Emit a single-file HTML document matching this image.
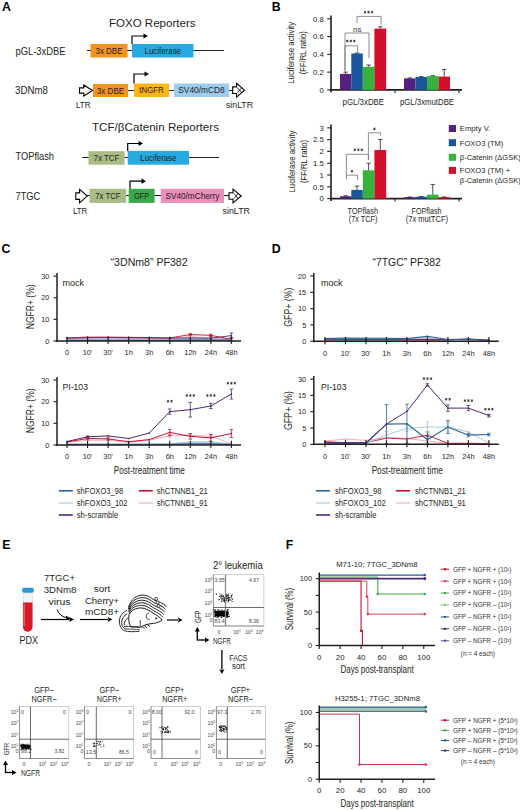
<!DOCTYPE html>
<html><head><meta charset="utf-8"><style>
html,body{margin:0;padding:0;background:#fff;overflow:hidden;}
svg{display:block;}
text{font-family:"Liberation Sans", sans-serif;}
</style></head><body>
<svg width="520" height="810" viewBox="0 0 520 810">
<rect width="520" height="810" fill="#fff"/>
<text x="1.90" y="11.20" font-size="12.3" text-anchor="start" fill="#000" font-weight="bold">A</text>
<text x="109.00" y="26.50" font-size="11" text-anchor="start" fill="#231f20" textLength="86.5" lengthAdjust="spacingAndGlyphs">FOXO Reporters</text>
<text x="92.00" y="131.00" font-size="11" text-anchor="start" fill="#231f20" textLength="127" lengthAdjust="spacingAndGlyphs">TCF/βCatenin Reporters</text>
<text x="15.50" y="54.90" font-size="10.5" text-anchor="start" fill="#231f20" textLength="50" lengthAdjust="spacingAndGlyphs">pGL-3xDBE</text>
<line x1="87.00" y1="50.50" x2="224.00" y2="50.50" stroke="#231f20" stroke-width="1.2"/>
<rect x="90.50" y="44.00" width="37.00" height="13.50" fill="#F6921E" stroke="none" stroke-width="0"/>
<text x="109.00" y="53.85" font-size="8.6" text-anchor="middle" fill="#231f20" textLength="27" lengthAdjust="spacingAndGlyphs">3x DBE</text>
<rect x="132.00" y="44.00" width="61.50" height="13.50" fill="#27A9E1" stroke="none" stroke-width="0"/>
<text x="162.75" y="53.85" font-size="8.6" text-anchor="middle" fill="#231f20" textLength="36.5" lengthAdjust="spacingAndGlyphs">Luciferase</text>
<path d="M132 44 V36 H144" fill="none" stroke="#000" stroke-width="1.2"/>
<polygon points="143.5,33.4 148,36 143.5,38.6" fill="#000"/>
<text x="15.00" y="94.30" font-size="10.5" text-anchor="start" fill="#231f20" textLength="33" lengthAdjust="spacingAndGlyphs">3DNm8</text>
<line x1="90.00" y1="90.50" x2="233.00" y2="90.50" stroke="#231f20" stroke-width="1.2"/>
<path d="M79.5 87.86 H83.79 V85.0 L92.5 90.5 L83.79 96.0 V93.14 H79.5 Z" fill="#fff" stroke="#000" stroke-width="1.1"/>
<rect x="93.00" y="84.00" width="35.00" height="13.00" fill="#F6921E" stroke="none" stroke-width="0"/>
<text x="110.50" y="93.60" font-size="8.6" text-anchor="middle" fill="#231f20" textLength="27.5" lengthAdjust="spacingAndGlyphs">3x DBE</text>
<rect x="134.00" y="83.50" width="35.00" height="13.50" fill="#FDB515" stroke="none" stroke-width="0"/>
<text x="151.50" y="93.35" font-size="8.6" text-anchor="middle" fill="#231f20" textLength="24.5" lengthAdjust="spacingAndGlyphs">tNGFR</text>
<rect x="174.00" y="83.50" width="55.00" height="13.50" fill="#9FCBED" stroke="none" stroke-width="0"/>
<text x="201.50" y="93.35" font-size="8.6" text-anchor="middle" fill="#231f20" textLength="46.5" lengthAdjust="spacingAndGlyphs">SV40/mCD8</text>
<path d="M232.7 86.888 H236.594 V83.3 L244.5 90.2 L236.594 97.10000000000001 V93.512 H232.7 Z" fill="#fff" stroke="#000" stroke-width="1.1"/>
<line x1="237.40" y1="87.60" x2="241.80" y2="92.80" stroke="#000" stroke-width="0.8"/>
<line x1="237.40" y1="92.80" x2="241.80" y2="87.60" stroke="#000" stroke-width="0.8"/>
<path d="M134 83.5 V74 H145" fill="none" stroke="#000" stroke-width="1.2"/>
<polygon points="144.5,71.4 149,74 144.5,76.6" fill="#000"/>
<text x="76.00" y="108.20" font-size="9.9" text-anchor="start" fill="#231f20" textLength="14.5" lengthAdjust="spacingAndGlyphs">LTR</text>
<text x="226.00" y="108.30" font-size="9.9" text-anchor="start" fill="#231f20" textLength="27" lengthAdjust="spacingAndGlyphs">sinLTR</text>
<text x="15.50" y="160.30" font-size="10.5" text-anchor="start" fill="#231f20" textLength="38.5" lengthAdjust="spacingAndGlyphs">TOPflash</text>
<line x1="82.30" y1="157.50" x2="219.00" y2="157.50" stroke="#231f20" stroke-width="1.2"/>
<rect x="88.50" y="151.20" width="36.10" height="13.50" fill="#A9BC86" stroke="none" stroke-width="0"/>
<text x="106.55" y="161.05" font-size="8.6" text-anchor="middle" fill="#231f20" textLength="25.4" lengthAdjust="spacingAndGlyphs">7x TCF</text>
<rect x="127.70" y="150.90" width="61.30" height="13.80" fill="#27A9E1" stroke="none" stroke-width="0"/>
<text x="158.35" y="160.90" font-size="8.6" text-anchor="middle" fill="#231f20" textLength="36" lengthAdjust="spacingAndGlyphs">Luciferase</text>
<path d="M127.7 151 V143.5 H139" fill="none" stroke="#000" stroke-width="1.2"/>
<polygon points="138.5,140.9 143,143.5 138.5,146.1" fill="#000"/>
<text x="15.50" y="200.00" font-size="10.6" text-anchor="start" fill="#231f20" textLength="24.6" lengthAdjust="spacingAndGlyphs">7TGC</text>
<line x1="87.00" y1="195.50" x2="229.50" y2="195.50" stroke="#231f20" stroke-width="1.2"/>
<path d="M75.8 192.85999999999999 H79.595 V189.35 L87.3 196.1 L79.595 202.85 V199.34 H75.8 Z" fill="#fff" stroke="#000" stroke-width="1.1"/>
<rect x="89.60" y="188.80" width="36.60" height="14.10" fill="#A9BC86" stroke="none" stroke-width="0"/>
<text x="107.90" y="198.95" font-size="8.6" text-anchor="middle" fill="#231f20" textLength="25.4" lengthAdjust="spacingAndGlyphs">7x TCF</text>
<rect x="128.70" y="188.80" width="25.90" height="14.10" fill="#3AAA49" stroke="none" stroke-width="0"/>
<text x="141.65" y="198.95" font-size="8.6" text-anchor="middle" fill="#231f20" textLength="15" lengthAdjust="spacingAndGlyphs">GFP</text>
<rect x="160.80" y="188.80" width="63.20" height="14.10" fill="#EB8DBD" stroke="none" stroke-width="0"/>
<text x="192.40" y="198.95" font-size="8.6" text-anchor="middle" fill="#231f20" textLength="54" lengthAdjust="spacingAndGlyphs">SV40/mCherry</text>
<path d="M229 192.688 H233.026 V189.1 L241.2 196 L233.026 202.9 V199.312 H229 Z" fill="#fff" stroke="#000" stroke-width="1.1"/>
<line x1="233.93" y1="193.40" x2="238.33" y2="198.60" stroke="#000" stroke-width="0.8"/>
<line x1="233.93" y1="198.60" x2="238.33" y2="193.40" stroke="#000" stroke-width="0.8"/>
<path d="M130 188.8 V181.2 H142" fill="none" stroke="#000" stroke-width="1.2"/>
<polygon points="141.5,178.6 146,181.2 141.5,183.79999999999998" fill="#000"/>
<text x="72.90" y="213.60" font-size="9.9" text-anchor="start" fill="#231f20" textLength="14.4" lengthAdjust="spacingAndGlyphs">LTR</text>
<text x="222.50" y="213.80" font-size="9.9" text-anchor="start" fill="#231f20" textLength="27.5" lengthAdjust="spacingAndGlyphs">sinLTR</text>
<text x="271.80" y="11.20" font-size="12.3" text-anchor="start" fill="#000" font-weight="bold">B</text>
<line x1="331.00" y1="15.50" x2="331.00" y2="92.40" stroke="#231f20" stroke-width="1.6"/>
<line x1="330.20" y1="89.90" x2="462.00" y2="89.90" stroke="#231f20" stroke-width="1.6"/>
<line x1="327.20" y1="89.90" x2="331.00" y2="89.90" stroke="#231f20" stroke-width="1.1"/>
<text x="323.80" y="92.70" font-size="7.8" text-anchor="end" fill="#231f20">0</text>
<line x1="327.20" y1="72.12" x2="331.00" y2="72.12" stroke="#231f20" stroke-width="1.1"/>
<text x="323.80" y="74.92" font-size="7.8" text-anchor="end" fill="#231f20">0.2</text>
<line x1="327.20" y1="54.35" x2="331.00" y2="54.35" stroke="#231f20" stroke-width="1.1"/>
<text x="323.80" y="57.15" font-size="7.8" text-anchor="end" fill="#231f20">0.4</text>
<line x1="327.20" y1="36.58" x2="331.00" y2="36.58" stroke="#231f20" stroke-width="1.1"/>
<text x="323.80" y="39.38" font-size="7.8" text-anchor="end" fill="#231f20">0.6</text>
<line x1="327.20" y1="18.80" x2="331.00" y2="18.80" stroke="#231f20" stroke-width="1.1"/>
<text x="323.80" y="21.60" font-size="7.8" text-anchor="end" fill="#231f20">0.8</text>
<line x1="395.00" y1="89.90" x2="395.00" y2="92.90" stroke="#231f20" stroke-width="1.1"/>
<line x1="459.00" y1="89.90" x2="459.00" y2="92.90" stroke="#231f20" stroke-width="1.1"/>
<rect x="340.00" y="73.90" width="11.30" height="16.00" fill="#56207E" stroke="none" stroke-width="0"/>
<line x1="345.65" y1="73.90" x2="345.65" y2="72.13" stroke="#231f20" stroke-width="0.8"/>
<line x1="343.45" y1="72.13" x2="347.85" y2="72.13" stroke="#231f20" stroke-width="0.8"/>
<rect x="351.30" y="53.46" width="11.50" height="36.44" fill="#1A569C" stroke="none" stroke-width="0"/>
<line x1="357.05" y1="53.46" x2="357.05" y2="53.02" stroke="#231f20" stroke-width="0.8"/>
<line x1="354.85" y1="53.02" x2="359.25" y2="53.02" stroke="#231f20" stroke-width="0.8"/>
<rect x="362.80" y="66.79" width="11.60" height="23.11" fill="#38B23F" stroke="none" stroke-width="0"/>
<line x1="368.60" y1="66.79" x2="368.60" y2="65.02" stroke="#231f20" stroke-width="0.8"/>
<line x1="366.40" y1="65.02" x2="370.80" y2="65.02" stroke="#231f20" stroke-width="0.8"/>
<rect x="374.40" y="28.58" width="11.80" height="61.32" fill="#D0112B" stroke="none" stroke-width="0"/>
<line x1="380.30" y1="28.58" x2="380.30" y2="26.80" stroke="#231f20" stroke-width="0.8"/>
<line x1="378.10" y1="26.80" x2="382.50" y2="26.80" stroke="#231f20" stroke-width="0.8"/>
<rect x="404.00" y="78.35" width="11.50" height="11.55" fill="#56207E" stroke="none" stroke-width="0"/>
<line x1="409.75" y1="78.35" x2="409.75" y2="77.90" stroke="#231f20" stroke-width="0.8"/>
<line x1="407.55" y1="77.90" x2="411.95" y2="77.90" stroke="#231f20" stroke-width="0.8"/>
<rect x="415.50" y="77.01" width="11.50" height="12.89" fill="#1A569C" stroke="none" stroke-width="0"/>
<line x1="421.25" y1="77.01" x2="421.25" y2="76.57" stroke="#231f20" stroke-width="0.8"/>
<line x1="419.05" y1="76.57" x2="423.45" y2="76.57" stroke="#231f20" stroke-width="0.8"/>
<rect x="427.00" y="76.12" width="11.50" height="13.78" fill="#38B23F" stroke="none" stroke-width="0"/>
<line x1="432.75" y1="76.12" x2="432.75" y2="75.68" stroke="#231f20" stroke-width="0.8"/>
<line x1="430.55" y1="75.68" x2="434.95" y2="75.68" stroke="#231f20" stroke-width="0.8"/>
<rect x="438.50" y="76.57" width="11.50" height="13.33" fill="#D0112B" stroke="none" stroke-width="0"/>
<line x1="444.25" y1="76.57" x2="444.25" y2="69.46" stroke="#231f20" stroke-width="0.8"/>
<line x1="442.05" y1="69.46" x2="446.45" y2="69.46" stroke="#231f20" stroke-width="0.8"/>
<text x="363.30" y="105.00" font-size="8.6" text-anchor="middle" fill="#231f20" textLength="41.5" lengthAdjust="spacingAndGlyphs">pGL/3xDBE</text>
<text x="427.00" y="105.00" font-size="8.6" text-anchor="middle" fill="#231f20" textLength="54" lengthAdjust="spacingAndGlyphs">pGL/3xmutDBE</text>
<text x="294.50" y="52.80" font-size="8.6" text-anchor="middle" fill="#231f20" textLength="62" lengthAdjust="spacingAndGlyphs" transform="rotate(-90 294.50 52.80)">Luciferase activity</text>
<text x="306.50" y="52.80" font-size="8.6" text-anchor="middle" fill="#231f20" textLength="43" lengthAdjust="spacingAndGlyphs" transform="rotate(-90 306.50 52.80)">(FF/RL ratio)</text>
<path d="M357 23 V16.4 H381 V25" fill="none" stroke="#6a6a6a" stroke-width="0.75"/>
<line x1="365.00" y1="10.85" x2="365.00" y2="13.55" stroke="#2a2a2a" stroke-width="0.75"/>
<line x1="363.83" y1="11.52" x2="366.17" y2="12.88" stroke="#2a2a2a" stroke-width="0.75"/>
<line x1="366.17" y1="11.52" x2="363.83" y2="12.88" stroke="#2a2a2a" stroke-width="0.75"/>
<line x1="368.50" y1="10.85" x2="368.50" y2="13.55" stroke="#2a2a2a" stroke-width="0.75"/>
<line x1="367.33" y1="11.52" x2="369.67" y2="12.88" stroke="#2a2a2a" stroke-width="0.75"/>
<line x1="369.67" y1="11.52" x2="367.33" y2="12.88" stroke="#2a2a2a" stroke-width="0.75"/>
<line x1="372.00" y1="10.85" x2="372.00" y2="13.55" stroke="#2a2a2a" stroke-width="0.75"/>
<line x1="370.83" y1="11.52" x2="373.17" y2="12.88" stroke="#2a2a2a" stroke-width="0.75"/>
<line x1="373.17" y1="11.52" x2="370.83" y2="12.88" stroke="#2a2a2a" stroke-width="0.75"/>
<path d="M345 70 V33 H369 V58" fill="none" stroke="#6a6a6a" stroke-width="0.75"/>
<text x="357.30" y="31.60" font-size="8" text-anchor="middle" fill="#333">ns</text>
<path d="M345 72 V45.8 H357.6 V52" fill="none" stroke="#6a6a6a" stroke-width="0.75"/>
<line x1="347.30" y1="39.65" x2="347.30" y2="42.35" stroke="#2a2a2a" stroke-width="0.75"/>
<line x1="346.13" y1="40.33" x2="348.47" y2="41.67" stroke="#2a2a2a" stroke-width="0.75"/>
<line x1="348.47" y1="40.33" x2="346.13" y2="41.67" stroke="#2a2a2a" stroke-width="0.75"/>
<line x1="350.80" y1="39.65" x2="350.80" y2="42.35" stroke="#2a2a2a" stroke-width="0.75"/>
<line x1="349.63" y1="40.33" x2="351.97" y2="41.67" stroke="#2a2a2a" stroke-width="0.75"/>
<line x1="351.97" y1="40.33" x2="349.63" y2="41.67" stroke="#2a2a2a" stroke-width="0.75"/>
<line x1="354.30" y1="39.65" x2="354.30" y2="42.35" stroke="#2a2a2a" stroke-width="0.75"/>
<line x1="353.13" y1="40.33" x2="355.47" y2="41.67" stroke="#2a2a2a" stroke-width="0.75"/>
<line x1="355.47" y1="40.33" x2="353.13" y2="41.67" stroke="#2a2a2a" stroke-width="0.75"/>
<line x1="331.00" y1="124.50" x2="331.00" y2="201.10" stroke="#231f20" stroke-width="1.6"/>
<line x1="330.20" y1="198.60" x2="462.00" y2="198.60" stroke="#231f20" stroke-width="1.6"/>
<line x1="327.20" y1="198.60" x2="331.00" y2="198.60" stroke="#231f20" stroke-width="1.1"/>
<text x="323.80" y="201.40" font-size="7.8" text-anchor="end" fill="#231f20">0</text>
<line x1="327.20" y1="186.81" x2="331.00" y2="186.81" stroke="#231f20" stroke-width="1.1"/>
<text x="323.80" y="189.61" font-size="7.8" text-anchor="end" fill="#231f20">0.5</text>
<line x1="327.20" y1="175.02" x2="331.00" y2="175.02" stroke="#231f20" stroke-width="1.1"/>
<text x="323.80" y="177.82" font-size="7.8" text-anchor="end" fill="#231f20">1</text>
<line x1="327.20" y1="163.22" x2="331.00" y2="163.22" stroke="#231f20" stroke-width="1.1"/>
<text x="323.80" y="166.03" font-size="7.8" text-anchor="end" fill="#231f20">1.5</text>
<line x1="327.20" y1="151.43" x2="331.00" y2="151.43" stroke="#231f20" stroke-width="1.1"/>
<text x="323.80" y="154.23" font-size="7.8" text-anchor="end" fill="#231f20">2</text>
<line x1="327.20" y1="139.64" x2="331.00" y2="139.64" stroke="#231f20" stroke-width="1.1"/>
<text x="323.80" y="142.44" font-size="7.8" text-anchor="end" fill="#231f20">2.5</text>
<line x1="327.20" y1="127.85" x2="331.00" y2="127.85" stroke="#231f20" stroke-width="1.1"/>
<text x="323.80" y="130.65" font-size="7.8" text-anchor="end" fill="#231f20">3</text>
<line x1="395.00" y1="198.60" x2="395.00" y2="201.60" stroke="#231f20" stroke-width="1.1"/>
<line x1="459.00" y1="198.60" x2="459.00" y2="201.60" stroke="#231f20" stroke-width="1.1"/>
<rect x="340.00" y="196.24" width="11.30" height="2.36" fill="#56207E" stroke="none" stroke-width="0"/>
<line x1="345.65" y1="196.24" x2="345.65" y2="195.77" stroke="#231f20" stroke-width="0.8"/>
<line x1="343.45" y1="195.77" x2="347.85" y2="195.77" stroke="#231f20" stroke-width="0.8"/>
<rect x="351.30" y="189.87" width="11.50" height="8.73" fill="#1A569C" stroke="none" stroke-width="0"/>
<line x1="357.05" y1="189.87" x2="357.05" y2="186.10" stroke="#231f20" stroke-width="0.8"/>
<line x1="354.85" y1="186.10" x2="359.25" y2="186.10" stroke="#231f20" stroke-width="0.8"/>
<rect x="362.80" y="170.30" width="11.60" height="28.30" fill="#38B23F" stroke="none" stroke-width="0"/>
<line x1="368.60" y1="170.30" x2="368.60" y2="163.22" stroke="#231f20" stroke-width="0.8"/>
<line x1="366.40" y1="163.22" x2="370.80" y2="163.22" stroke="#231f20" stroke-width="0.8"/>
<rect x="374.40" y="150.02" width="11.80" height="48.58" fill="#D0112B" stroke="none" stroke-width="0"/>
<line x1="380.30" y1="150.02" x2="380.30" y2="139.41" stroke="#231f20" stroke-width="0.8"/>
<line x1="378.10" y1="139.41" x2="382.50" y2="139.41" stroke="#231f20" stroke-width="0.8"/>
<rect x="404.00" y="197.19" width="11.50" height="1.41" fill="#56207E" stroke="none" stroke-width="0"/>
<line x1="409.75" y1="197.19" x2="409.75" y2="196.95" stroke="#231f20" stroke-width="0.8"/>
<line x1="407.55" y1="196.95" x2="411.95" y2="196.95" stroke="#231f20" stroke-width="0.8"/>
<rect x="415.50" y="196.71" width="11.50" height="1.89" fill="#1A569C" stroke="none" stroke-width="0"/>
<line x1="421.25" y1="196.71" x2="421.25" y2="196.48" stroke="#231f20" stroke-width="0.8"/>
<line x1="419.05" y1="196.48" x2="423.45" y2="196.48" stroke="#231f20" stroke-width="0.8"/>
<rect x="427.00" y="194.59" width="11.50" height="4.01" fill="#38B23F" stroke="none" stroke-width="0"/>
<line x1="432.75" y1="194.59" x2="432.75" y2="184.45" stroke="#231f20" stroke-width="0.8"/>
<line x1="430.55" y1="184.45" x2="434.95" y2="184.45" stroke="#231f20" stroke-width="0.8"/>
<rect x="438.50" y="197.19" width="11.50" height="1.41" fill="#D0112B" stroke="none" stroke-width="0"/>
<line x1="444.25" y1="197.19" x2="444.25" y2="196.95" stroke="#231f20" stroke-width="0.8"/>
<line x1="442.05" y1="196.95" x2="446.45" y2="196.95" stroke="#231f20" stroke-width="0.8"/>
<text x="362.70" y="213.50" font-size="8.6" text-anchor="middle" fill="#231f20" textLength="30.6" lengthAdjust="spacingAndGlyphs">TOPflash</text>
<text x="426.50" y="213.50" font-size="8.6" text-anchor="middle" fill="#231f20" textLength="30" lengthAdjust="spacingAndGlyphs">FOPflash</text>
<text x="294.50" y="161.50" font-size="8.6" text-anchor="middle" fill="#231f20" textLength="62" lengthAdjust="spacingAndGlyphs" transform="rotate(-90 294.50 161.50)">Luciferase activity</text>
<text x="306.50" y="161.50" font-size="8.6" text-anchor="middle" fill="#231f20" textLength="43" lengthAdjust="spacingAndGlyphs" transform="rotate(-90 306.50 161.50)">(FF/RL ratio)</text>
<text x="363.10" y="221.60" font-size="8.6" text-anchor="middle" fill="#231f20" textLength="28.6" lengthAdjust="spacingAndGlyphs">(7x TCF)</text>
<text x="426.90" y="221.60" font-size="8.6" text-anchor="middle" fill="#231f20" textLength="42.2" lengthAdjust="spacingAndGlyphs">(7x mutTCF)</text>
<path d="M346.4 179.2 V175.2 H357.6 V180" fill="none" stroke="#6a6a6a" stroke-width="0.75"/>
<line x1="352.00" y1="169.85" x2="352.00" y2="172.55" stroke="#2a2a2a" stroke-width="0.75"/>
<line x1="350.83" y1="170.52" x2="353.17" y2="171.88" stroke="#2a2a2a" stroke-width="0.75"/>
<line x1="353.17" y1="170.52" x2="350.83" y2="171.88" stroke="#2a2a2a" stroke-width="0.75"/>
<path d="M346.4 175 V154.3 H368.4 V160" fill="none" stroke="#6a6a6a" stroke-width="0.75"/>
<line x1="354.80" y1="148.45" x2="354.80" y2="151.15" stroke="#2a2a2a" stroke-width="0.75"/>
<line x1="353.63" y1="149.12" x2="355.97" y2="150.48" stroke="#2a2a2a" stroke-width="0.75"/>
<line x1="355.97" y1="149.12" x2="353.63" y2="150.48" stroke="#2a2a2a" stroke-width="0.75"/>
<line x1="358.30" y1="148.45" x2="358.30" y2="151.15" stroke="#2a2a2a" stroke-width="0.75"/>
<line x1="357.13" y1="149.12" x2="359.47" y2="150.48" stroke="#2a2a2a" stroke-width="0.75"/>
<line x1="359.47" y1="149.12" x2="357.13" y2="150.48" stroke="#2a2a2a" stroke-width="0.75"/>
<line x1="361.80" y1="148.45" x2="361.80" y2="151.15" stroke="#2a2a2a" stroke-width="0.75"/>
<line x1="360.63" y1="149.12" x2="362.97" y2="150.48" stroke="#2a2a2a" stroke-width="0.75"/>
<line x1="362.97" y1="149.12" x2="360.63" y2="150.48" stroke="#2a2a2a" stroke-width="0.75"/>
<path d="M368.4 160 V132.8 H380.5 V135.5" fill="none" stroke="#6a6a6a" stroke-width="0.75"/>
<line x1="374.40" y1="127.55" x2="374.40" y2="130.25" stroke="#2a2a2a" stroke-width="0.75"/>
<line x1="373.23" y1="128.22" x2="375.57" y2="129.58" stroke="#2a2a2a" stroke-width="0.75"/>
<line x1="375.57" y1="128.22" x2="373.23" y2="129.58" stroke="#2a2a2a" stroke-width="0.75"/>
<rect x="448.80" y="125.00" width="7.20" height="7.00" fill="#56207E" stroke="none" stroke-width="0"/>
<text x="459.80" y="131.30" font-size="8.1" text-anchor="start" fill="#231f20" textLength="30.4" lengthAdjust="spacingAndGlyphs">Empty V.</text>
<rect x="448.80" y="139.20" width="7.20" height="7.00" fill="#1A569C" stroke="none" stroke-width="0"/>
<text x="459.80" y="145.50" font-size="8.1" text-anchor="start" fill="#231f20" textLength="43.5" lengthAdjust="spacingAndGlyphs">FOXO3 (TM)</text>
<rect x="448.80" y="153.80" width="7.20" height="7.00" fill="#38B23F" stroke="none" stroke-width="0"/>
<text x="459.80" y="160.10" font-size="8.1" text-anchor="start" fill="#231f20" textLength="61" lengthAdjust="spacingAndGlyphs">β-Catenin (ΔGSK)</text>
<rect x="448.80" y="166.90" width="7.20" height="7.00" fill="#D0112B" stroke="none" stroke-width="0"/>
<text x="459.80" y="173.20" font-size="8.1" text-anchor="start" fill="#231f20" textLength="50.3" lengthAdjust="spacingAndGlyphs">FOXO3 (TM) +</text>
<text x="459.80" y="183.00" font-size="8.1" text-anchor="start" fill="#231f20" textLength="61" lengthAdjust="spacingAndGlyphs">β-Catenin (ΔGSK)</text>
<text x="1.60" y="253.30" font-size="12.3" text-anchor="start" fill="#000" font-weight="bold">C</text>
<text x="110.60" y="266.30" font-size="10.5" text-anchor="start" fill="#231f20" textLength="77" lengthAdjust="spacingAndGlyphs">“3DNm8” PF382</text>
<text x="271.80" y="253.30" font-size="12.3" text-anchor="start" fill="#000" font-weight="bold">D</text>
<text x="372.50" y="266.30" font-size="10.5" text-anchor="start" fill="#231f20" textLength="68.3" lengthAdjust="spacingAndGlyphs">“7TGC” PF382</text>
<path d="M67.00 337.98 L87.55 337.11 L108.10 337.11 L128.65 337.33 L149.20 337.54 L169.75 337.98 L190.30 337.11 L210.85 337.54 L231.40 338.41 L231.40 340.35 L210.85 340.35 L190.30 340.35 L169.75 340.35 L149.20 340.35 L128.65 340.35 L108.10 340.35 L87.55 340.35 L67.00 340.35 Z" fill="#b9a6cc" fill-opacity="0.55" stroke="none"/>
<polyline points="67.00,338.41 87.55,337.98 108.10,337.54 128.65,337.76 149.20,337.98 169.75,338.19 190.30,336.68 210.85,337.76 231.40,338.84" fill="none" stroke="#EBA3B3" stroke-width="0.9" stroke-linejoin="round"/>
<circle cx="67.00" cy="338.41" r="0.85" fill="#EBA3B3"/>
<circle cx="87.55" cy="337.98" r="0.85" fill="#EBA3B3"/>
<circle cx="108.10" cy="337.54" r="0.85" fill="#EBA3B3"/>
<circle cx="128.65" cy="337.76" r="0.85" fill="#EBA3B3"/>
<circle cx="149.20" cy="337.98" r="0.85" fill="#EBA3B3"/>
<circle cx="169.75" cy="338.19" r="0.85" fill="#EBA3B3"/>
<circle cx="190.30" cy="336.68" r="0.85" fill="#EBA3B3"/>
<circle cx="210.85" cy="337.76" r="0.85" fill="#EBA3B3"/>
<circle cx="231.40" cy="338.84" r="0.85" fill="#EBA3B3"/>
<polyline points="67.00,337.98 87.55,337.11 108.10,337.11 128.65,337.33 149.20,337.54 169.75,337.98 190.30,334.52 210.85,335.38 231.40,339.27" fill="none" stroke="#C8102E" stroke-width="0.9" stroke-linejoin="round"/>
<circle cx="67.00" cy="337.98" r="0.85" fill="#C8102E"/>
<circle cx="87.55" cy="337.11" r="0.85" fill="#C8102E"/>
<circle cx="108.10" cy="337.11" r="0.85" fill="#C8102E"/>
<circle cx="128.65" cy="337.33" r="0.85" fill="#C8102E"/>
<circle cx="149.20" cy="337.54" r="0.85" fill="#C8102E"/>
<circle cx="169.75" cy="337.98" r="0.85" fill="#C8102E"/>
<circle cx="190.30" cy="334.52" r="0.85" fill="#C8102E"/>
<line x1="190.30" y1="333.66" x2="190.30" y2="335.38" stroke="#C8102E" stroke-width="0.8"/>
<line x1="188.50" y1="333.66" x2="192.10" y2="333.66" stroke="#C8102E" stroke-width="0.8"/>
<line x1="188.50" y1="335.38" x2="192.10" y2="335.38" stroke="#C8102E" stroke-width="0.8"/>
<circle cx="210.85" cy="335.38" r="0.85" fill="#C8102E"/>
<line x1="210.85" y1="334.30" x2="210.85" y2="336.46" stroke="#C8102E" stroke-width="0.8"/>
<line x1="209.05" y1="334.30" x2="212.65" y2="334.30" stroke="#C8102E" stroke-width="0.8"/>
<line x1="209.05" y1="336.46" x2="212.65" y2="336.46" stroke="#C8102E" stroke-width="0.8"/>
<circle cx="231.40" cy="339.27" r="0.85" fill="#C8102E"/>
<line x1="231.40" y1="337.54" x2="231.40" y2="341.00" stroke="#C8102E" stroke-width="0.8"/>
<line x1="229.60" y1="337.54" x2="233.20" y2="337.54" stroke="#C8102E" stroke-width="0.8"/>
<line x1="229.60" y1="341.00" x2="233.20" y2="341.00" stroke="#C8102E" stroke-width="0.8"/>
<polyline points="67.00,340.14 87.55,340.14 108.10,340.14 128.65,340.14 149.20,340.14 169.75,340.14 190.30,339.27 210.85,339.27 231.40,339.70" fill="none" stroke="#9EC5DC" stroke-width="0.9" stroke-linejoin="round"/>
<circle cx="67.00" cy="340.14" r="0.85" fill="#9EC5DC"/>
<circle cx="87.55" cy="340.14" r="0.85" fill="#9EC5DC"/>
<circle cx="108.10" cy="340.14" r="0.85" fill="#9EC5DC"/>
<circle cx="128.65" cy="340.14" r="0.85" fill="#9EC5DC"/>
<circle cx="149.20" cy="340.14" r="0.85" fill="#9EC5DC"/>
<circle cx="169.75" cy="340.14" r="0.85" fill="#9EC5DC"/>
<circle cx="190.30" cy="339.27" r="0.85" fill="#9EC5DC"/>
<circle cx="210.85" cy="339.27" r="0.85" fill="#9EC5DC"/>
<circle cx="231.40" cy="339.70" r="0.85" fill="#9EC5DC"/>
<polyline points="67.00,338.19 87.55,337.76 108.10,337.54 128.65,337.76 149.20,337.98 169.75,338.19 190.30,337.98 210.85,338.19 231.40,335.60" fill="none" stroke="#4E2A6E" stroke-width="0.9" stroke-linejoin="round"/>
<circle cx="67.00" cy="338.19" r="0.85" fill="#4E2A6E"/>
<circle cx="87.55" cy="337.76" r="0.85" fill="#4E2A6E"/>
<circle cx="108.10" cy="337.54" r="0.85" fill="#4E2A6E"/>
<circle cx="128.65" cy="337.76" r="0.85" fill="#4E2A6E"/>
<circle cx="149.20" cy="337.98" r="0.85" fill="#4E2A6E"/>
<circle cx="169.75" cy="338.19" r="0.85" fill="#4E2A6E"/>
<circle cx="190.30" cy="337.98" r="0.85" fill="#4E2A6E"/>
<circle cx="210.85" cy="338.19" r="0.85" fill="#4E2A6E"/>
<circle cx="231.40" cy="335.60" r="0.85" fill="#4E2A6E"/>
<line x1="231.40" y1="333.01" x2="231.40" y2="338.19" stroke="#4E2A6E" stroke-width="0.8"/>
<line x1="229.60" y1="333.01" x2="233.20" y2="333.01" stroke="#4E2A6E" stroke-width="0.8"/>
<line x1="229.60" y1="338.19" x2="233.20" y2="338.19" stroke="#4E2A6E" stroke-width="0.8"/>
<polyline points="67.00,340.35 87.55,340.35 108.10,340.35 128.65,340.35 149.20,340.35 169.75,340.35 190.30,340.14 210.85,340.14 231.40,340.14" fill="none" stroke="#2D6496" stroke-width="1.2" stroke-linejoin="round"/>
<circle cx="67.00" cy="340.35" r="0.85" fill="#2D6496"/>
<circle cx="87.55" cy="340.35" r="0.85" fill="#2D6496"/>
<circle cx="108.10" cy="340.35" r="0.85" fill="#2D6496"/>
<circle cx="128.65" cy="340.35" r="0.85" fill="#2D6496"/>
<circle cx="149.20" cy="340.35" r="0.85" fill="#2D6496"/>
<circle cx="169.75" cy="340.35" r="0.85" fill="#2D6496"/>
<circle cx="190.30" cy="340.14" r="0.85" fill="#2D6496"/>
<circle cx="210.85" cy="340.14" r="0.85" fill="#2D6496"/>
<circle cx="231.40" cy="340.14" r="0.85" fill="#2D6496"/>
<line x1="57.00" y1="273.00" x2="57.00" y2="342.00" stroke="#231f20" stroke-width="1.5"/>
<line x1="56.30" y1="341.00" x2="241.00" y2="341.00" stroke="#231f20" stroke-width="1.5"/>
<line x1="53.50" y1="341.00" x2="57.00" y2="341.00" stroke="#231f20" stroke-width="1.1"/>
<text x="49.40" y="343.60" font-size="7.3" text-anchor="end" fill="#231f20">0</text>
<line x1="53.50" y1="319.40" x2="57.00" y2="319.40" stroke="#231f20" stroke-width="1.1"/>
<text x="49.40" y="322.00" font-size="7.3" text-anchor="end" fill="#231f20">10</text>
<line x1="53.50" y1="297.80" x2="57.00" y2="297.80" stroke="#231f20" stroke-width="1.1"/>
<text x="49.40" y="300.40" font-size="7.3" text-anchor="end" fill="#231f20">20</text>
<line x1="53.50" y1="276.20" x2="57.00" y2="276.20" stroke="#231f20" stroke-width="1.1"/>
<text x="49.40" y="278.80" font-size="7.3" text-anchor="end" fill="#231f20">30</text>
<line x1="67.00" y1="336.70" x2="67.00" y2="344.00" stroke="#231f20" stroke-width="1.1"/>
<text x="67.00" y="355.30" font-size="7.4" text-anchor="middle" fill="#231f20">0</text>
<line x1="87.55" y1="336.70" x2="87.55" y2="344.00" stroke="#231f20" stroke-width="1.1"/>
<text x="87.55" y="355.30" font-size="7.4" text-anchor="middle" fill="#231f20">10'</text>
<line x1="108.10" y1="336.70" x2="108.10" y2="344.00" stroke="#231f20" stroke-width="1.1"/>
<text x="108.10" y="355.30" font-size="7.4" text-anchor="middle" fill="#231f20">30'</text>
<line x1="128.65" y1="336.70" x2="128.65" y2="344.00" stroke="#231f20" stroke-width="1.1"/>
<text x="128.65" y="355.30" font-size="7.4" text-anchor="middle" fill="#231f20">1h</text>
<line x1="149.20" y1="336.70" x2="149.20" y2="344.00" stroke="#231f20" stroke-width="1.1"/>
<text x="149.20" y="355.30" font-size="7.4" text-anchor="middle" fill="#231f20">3h</text>
<line x1="169.75" y1="336.70" x2="169.75" y2="344.00" stroke="#231f20" stroke-width="1.1"/>
<text x="169.75" y="355.30" font-size="7.4" text-anchor="middle" fill="#231f20">6h</text>
<line x1="190.30" y1="336.70" x2="190.30" y2="344.00" stroke="#231f20" stroke-width="1.1"/>
<text x="190.30" y="355.30" font-size="7.4" text-anchor="middle" fill="#231f20">12h</text>
<line x1="210.85" y1="336.70" x2="210.85" y2="344.00" stroke="#231f20" stroke-width="1.1"/>
<text x="210.85" y="355.30" font-size="7.4" text-anchor="middle" fill="#231f20">24h</text>
<line x1="231.40" y1="336.70" x2="231.40" y2="344.00" stroke="#231f20" stroke-width="1.1"/>
<text x="231.40" y="355.30" font-size="7.4" text-anchor="middle" fill="#231f20">48h</text>
<text x="62.50" y="286.00" font-size="8.6" text-anchor="start" fill="#231f20" textLength="21.5" lengthAdjust="spacingAndGlyphs">mock</text>
<path d="M67.00 444.35 L87.55 444.35 L108.10 444.35 L128.65 444.35 L149.20 444.35 L169.75 443.92 L190.30 441.75 L210.85 441.75 L231.40 444.35 L231.40 444.57 L210.85 444.57 L190.30 444.57 L169.75 444.57 L149.20 444.57 L128.65 444.57 L108.10 444.57 L87.55 444.57 L67.00 444.57 Z" fill="#9ec5dc" fill-opacity="0.6" stroke="none"/>
<polyline points="67.00,444.35 87.55,444.35 108.10,444.35 128.65,444.35 149.20,444.35 169.75,443.92 190.30,441.75 210.85,441.75 231.40,444.35" fill="none" stroke="#9EC5DC" stroke-width="0.9" stroke-linejoin="round"/>
<circle cx="67.00" cy="444.35" r="0.85" fill="#9EC5DC"/>
<circle cx="87.55" cy="444.35" r="0.85" fill="#9EC5DC"/>
<circle cx="108.10" cy="444.35" r="0.85" fill="#9EC5DC"/>
<circle cx="128.65" cy="444.35" r="0.85" fill="#9EC5DC"/>
<circle cx="149.20" cy="444.35" r="0.85" fill="#9EC5DC"/>
<circle cx="169.75" cy="443.92" r="0.85" fill="#9EC5DC"/>
<circle cx="190.30" cy="441.75" r="0.85" fill="#9EC5DC"/>
<circle cx="210.85" cy="441.75" r="0.85" fill="#9EC5DC"/>
<circle cx="231.40" cy="444.35" r="0.85" fill="#9EC5DC"/>
<polyline points="67.00,442.40 87.55,440.23 108.10,440.23 128.65,442.40 149.20,440.23 169.75,435.90 190.30,435.47 210.85,436.33 231.40,443.70" fill="none" stroke="#EBA3B3" stroke-width="0.9" stroke-linejoin="round"/>
<circle cx="67.00" cy="442.40" r="0.85" fill="#EBA3B3"/>
<circle cx="87.55" cy="440.23" r="0.85" fill="#EBA3B3"/>
<circle cx="108.10" cy="440.23" r="0.85" fill="#EBA3B3"/>
<circle cx="128.65" cy="442.40" r="0.85" fill="#EBA3B3"/>
<circle cx="149.20" cy="440.23" r="0.85" fill="#EBA3B3"/>
<circle cx="169.75" cy="435.90" r="0.85" fill="#EBA3B3"/>
<line x1="169.75" y1="434.60" x2="169.75" y2="437.20" stroke="#EBA3B3" stroke-width="0.8"/>
<line x1="167.95" y1="434.60" x2="171.55" y2="434.60" stroke="#EBA3B3" stroke-width="0.8"/>
<line x1="167.95" y1="437.20" x2="171.55" y2="437.20" stroke="#EBA3B3" stroke-width="0.8"/>
<circle cx="190.30" cy="435.47" r="0.85" fill="#EBA3B3"/>
<line x1="190.30" y1="434.16" x2="190.30" y2="436.77" stroke="#EBA3B3" stroke-width="0.8"/>
<line x1="188.50" y1="434.16" x2="192.10" y2="434.16" stroke="#EBA3B3" stroke-width="0.8"/>
<line x1="188.50" y1="436.77" x2="192.10" y2="436.77" stroke="#EBA3B3" stroke-width="0.8"/>
<circle cx="210.85" cy="436.33" r="0.85" fill="#EBA3B3"/>
<line x1="210.85" y1="435.03" x2="210.85" y2="437.63" stroke="#EBA3B3" stroke-width="0.8"/>
<line x1="209.05" y1="435.03" x2="212.65" y2="435.03" stroke="#EBA3B3" stroke-width="0.8"/>
<line x1="209.05" y1="437.63" x2="212.65" y2="437.63" stroke="#EBA3B3" stroke-width="0.8"/>
<circle cx="231.40" cy="443.70" r="0.85" fill="#EBA3B3"/>
<polyline points="67.00,441.97 87.55,438.50 108.10,438.93 128.65,441.75 149.20,439.58 169.75,432.43 190.30,436.33 210.85,437.85 231.40,433.51" fill="none" stroke="#C8102E" stroke-width="1.0" stroke-linejoin="round"/>
<circle cx="67.00" cy="441.97" r="0.85" fill="#C8102E"/>
<circle cx="87.55" cy="438.50" r="0.85" fill="#C8102E"/>
<line x1="87.55" y1="437.20" x2="87.55" y2="439.80" stroke="#C8102E" stroke-width="0.8"/>
<line x1="85.75" y1="437.20" x2="89.35" y2="437.20" stroke="#C8102E" stroke-width="0.8"/>
<line x1="85.75" y1="439.80" x2="89.35" y2="439.80" stroke="#C8102E" stroke-width="0.8"/>
<circle cx="108.10" cy="438.93" r="0.85" fill="#C8102E"/>
<line x1="108.10" y1="437.85" x2="108.10" y2="440.02" stroke="#C8102E" stroke-width="0.8"/>
<line x1="106.30" y1="437.85" x2="109.90" y2="437.85" stroke="#C8102E" stroke-width="0.8"/>
<line x1="106.30" y1="440.02" x2="109.90" y2="440.02" stroke="#C8102E" stroke-width="0.8"/>
<circle cx="128.65" cy="441.75" r="0.85" fill="#C8102E"/>
<circle cx="149.20" cy="439.58" r="0.85" fill="#C8102E"/>
<circle cx="169.75" cy="432.43" r="0.85" fill="#C8102E"/>
<line x1="169.75" y1="429.40" x2="169.75" y2="435.47" stroke="#C8102E" stroke-width="0.8"/>
<line x1="167.95" y1="429.40" x2="171.55" y2="429.40" stroke="#C8102E" stroke-width="0.8"/>
<line x1="167.95" y1="435.47" x2="171.55" y2="435.47" stroke="#C8102E" stroke-width="0.8"/>
<circle cx="190.30" cy="436.33" r="0.85" fill="#C8102E"/>
<line x1="190.30" y1="433.51" x2="190.30" y2="439.15" stroke="#C8102E" stroke-width="0.8"/>
<line x1="188.50" y1="433.51" x2="192.10" y2="433.51" stroke="#C8102E" stroke-width="0.8"/>
<line x1="188.50" y1="439.15" x2="192.10" y2="439.15" stroke="#C8102E" stroke-width="0.8"/>
<circle cx="210.85" cy="437.85" r="0.85" fill="#C8102E"/>
<line x1="210.85" y1="434.38" x2="210.85" y2="441.32" stroke="#C8102E" stroke-width="0.8"/>
<line x1="209.05" y1="434.38" x2="212.65" y2="434.38" stroke="#C8102E" stroke-width="0.8"/>
<line x1="209.05" y1="441.32" x2="212.65" y2="441.32" stroke="#C8102E" stroke-width="0.8"/>
<circle cx="231.40" cy="433.51" r="0.85" fill="#C8102E"/>
<line x1="231.40" y1="429.61" x2="231.40" y2="437.42" stroke="#C8102E" stroke-width="0.8"/>
<line x1="229.60" y1="429.61" x2="233.20" y2="429.61" stroke="#C8102E" stroke-width="0.8"/>
<line x1="229.60" y1="437.42" x2="233.20" y2="437.42" stroke="#C8102E" stroke-width="0.8"/>
<polyline points="67.00,441.53 87.55,436.77 108.10,435.90 128.65,438.50 149.20,433.08 169.75,411.63 190.30,409.68 210.85,405.99 231.40,394.08" fill="none" stroke="#4E2A6E" stroke-width="1.0" stroke-linejoin="round"/>
<circle cx="67.00" cy="441.53" r="0.85" fill="#4E2A6E"/>
<circle cx="87.55" cy="436.77" r="0.85" fill="#4E2A6E"/>
<line x1="87.55" y1="435.90" x2="87.55" y2="437.63" stroke="#4E2A6E" stroke-width="0.8"/>
<line x1="85.75" y1="435.90" x2="89.35" y2="435.90" stroke="#4E2A6E" stroke-width="0.8"/>
<line x1="85.75" y1="437.63" x2="89.35" y2="437.63" stroke="#4E2A6E" stroke-width="0.8"/>
<circle cx="108.10" cy="435.90" r="0.85" fill="#4E2A6E"/>
<circle cx="128.65" cy="438.50" r="0.85" fill="#4E2A6E"/>
<circle cx="149.20" cy="433.08" r="0.85" fill="#4E2A6E"/>
<circle cx="169.75" cy="411.63" r="0.85" fill="#4E2A6E"/>
<line x1="169.75" y1="409.03" x2="169.75" y2="414.23" stroke="#4E2A6E" stroke-width="0.8"/>
<line x1="167.95" y1="409.03" x2="171.55" y2="409.03" stroke="#4E2A6E" stroke-width="0.8"/>
<line x1="167.95" y1="414.23" x2="171.55" y2="414.23" stroke="#4E2A6E" stroke-width="0.8"/>
<circle cx="190.30" cy="409.68" r="0.85" fill="#4E2A6E"/>
<line x1="190.30" y1="402.31" x2="190.30" y2="417.05" stroke="#4E2A6E" stroke-width="0.8"/>
<line x1="188.50" y1="402.31" x2="192.10" y2="402.31" stroke="#4E2A6E" stroke-width="0.8"/>
<line x1="188.50" y1="417.05" x2="192.10" y2="417.05" stroke="#4E2A6E" stroke-width="0.8"/>
<circle cx="210.85" cy="405.99" r="0.85" fill="#4E2A6E"/>
<line x1="210.85" y1="403.39" x2="210.85" y2="408.59" stroke="#4E2A6E" stroke-width="0.8"/>
<line x1="209.05" y1="403.39" x2="212.65" y2="403.39" stroke="#4E2A6E" stroke-width="0.8"/>
<line x1="209.05" y1="408.59" x2="212.65" y2="408.59" stroke="#4E2A6E" stroke-width="0.8"/>
<circle cx="231.40" cy="394.08" r="0.85" fill="#4E2A6E"/>
<line x1="231.40" y1="389.09" x2="231.40" y2="399.06" stroke="#4E2A6E" stroke-width="0.8"/>
<line x1="229.60" y1="389.09" x2="233.20" y2="389.09" stroke="#4E2A6E" stroke-width="0.8"/>
<line x1="229.60" y1="399.06" x2="233.20" y2="399.06" stroke="#4E2A6E" stroke-width="0.8"/>
<polyline points="67.00,444.35 87.55,444.35 108.10,444.35 128.65,444.35 149.20,444.35 169.75,444.35 190.30,443.92 210.85,443.92 231.40,444.35" fill="none" stroke="#2D6496" stroke-width="1.2" stroke-linejoin="round"/>
<circle cx="67.00" cy="444.35" r="0.85" fill="#2D6496"/>
<circle cx="87.55" cy="444.35" r="0.85" fill="#2D6496"/>
<circle cx="108.10" cy="444.35" r="0.85" fill="#2D6496"/>
<circle cx="128.65" cy="444.35" r="0.85" fill="#2D6496"/>
<circle cx="149.20" cy="444.35" r="0.85" fill="#2D6496"/>
<circle cx="169.75" cy="444.35" r="0.85" fill="#2D6496"/>
<circle cx="190.30" cy="443.92" r="0.85" fill="#2D6496"/>
<circle cx="210.85" cy="443.92" r="0.85" fill="#2D6496"/>
<circle cx="231.40" cy="444.35" r="0.85" fill="#2D6496"/>
<line x1="57.00" y1="377.00" x2="57.00" y2="446.00" stroke="#231f20" stroke-width="1.5"/>
<line x1="56.30" y1="445.00" x2="241.00" y2="445.00" stroke="#231f20" stroke-width="1.5"/>
<line x1="53.50" y1="445.00" x2="57.00" y2="445.00" stroke="#231f20" stroke-width="1.1"/>
<text x="49.40" y="447.60" font-size="7.3" text-anchor="end" fill="#231f20">0</text>
<line x1="53.50" y1="423.33" x2="57.00" y2="423.33" stroke="#231f20" stroke-width="1.1"/>
<text x="49.40" y="425.93" font-size="7.3" text-anchor="end" fill="#231f20">10</text>
<line x1="53.50" y1="401.66" x2="57.00" y2="401.66" stroke="#231f20" stroke-width="1.1"/>
<text x="49.40" y="404.26" font-size="7.3" text-anchor="end" fill="#231f20">20</text>
<line x1="53.50" y1="379.99" x2="57.00" y2="379.99" stroke="#231f20" stroke-width="1.1"/>
<text x="49.40" y="382.59" font-size="7.3" text-anchor="end" fill="#231f20">30</text>
<line x1="67.00" y1="440.70" x2="67.00" y2="448.00" stroke="#231f20" stroke-width="1.1"/>
<text x="67.00" y="459.30" font-size="7.4" text-anchor="middle" fill="#231f20">0</text>
<line x1="87.55" y1="440.70" x2="87.55" y2="448.00" stroke="#231f20" stroke-width="1.1"/>
<text x="87.55" y="459.30" font-size="7.4" text-anchor="middle" fill="#231f20">10'</text>
<line x1="108.10" y1="440.70" x2="108.10" y2="448.00" stroke="#231f20" stroke-width="1.1"/>
<text x="108.10" y="459.30" font-size="7.4" text-anchor="middle" fill="#231f20">30'</text>
<line x1="128.65" y1="440.70" x2="128.65" y2="448.00" stroke="#231f20" stroke-width="1.1"/>
<text x="128.65" y="459.30" font-size="7.4" text-anchor="middle" fill="#231f20">1h</text>
<line x1="149.20" y1="440.70" x2="149.20" y2="448.00" stroke="#231f20" stroke-width="1.1"/>
<text x="149.20" y="459.30" font-size="7.4" text-anchor="middle" fill="#231f20">3h</text>
<line x1="169.75" y1="440.70" x2="169.75" y2="448.00" stroke="#231f20" stroke-width="1.1"/>
<text x="169.75" y="459.30" font-size="7.4" text-anchor="middle" fill="#231f20">6h</text>
<line x1="190.30" y1="440.70" x2="190.30" y2="448.00" stroke="#231f20" stroke-width="1.1"/>
<text x="190.30" y="459.30" font-size="7.4" text-anchor="middle" fill="#231f20">12h</text>
<line x1="210.85" y1="440.70" x2="210.85" y2="448.00" stroke="#231f20" stroke-width="1.1"/>
<text x="210.85" y="459.30" font-size="7.4" text-anchor="middle" fill="#231f20">24h</text>
<line x1="231.40" y1="440.70" x2="231.40" y2="448.00" stroke="#231f20" stroke-width="1.1"/>
<text x="231.40" y="459.30" font-size="7.4" text-anchor="middle" fill="#231f20">48h</text>
<line x1="168.00" y1="399.85" x2="168.00" y2="402.55" stroke="#2a2a2a" stroke-width="0.75"/>
<line x1="166.83" y1="400.52" x2="169.17" y2="401.88" stroke="#2a2a2a" stroke-width="0.75"/>
<line x1="169.17" y1="400.52" x2="166.83" y2="401.88" stroke="#2a2a2a" stroke-width="0.75"/>
<line x1="171.50" y1="399.85" x2="171.50" y2="402.55" stroke="#2a2a2a" stroke-width="0.75"/>
<line x1="170.33" y1="400.52" x2="172.67" y2="401.88" stroke="#2a2a2a" stroke-width="0.75"/>
<line x1="172.67" y1="400.52" x2="170.33" y2="401.88" stroke="#2a2a2a" stroke-width="0.75"/>
<line x1="186.80" y1="394.15" x2="186.80" y2="396.85" stroke="#2a2a2a" stroke-width="0.75"/>
<line x1="185.63" y1="394.82" x2="187.97" y2="396.18" stroke="#2a2a2a" stroke-width="0.75"/>
<line x1="187.97" y1="394.82" x2="185.63" y2="396.18" stroke="#2a2a2a" stroke-width="0.75"/>
<line x1="190.30" y1="394.15" x2="190.30" y2="396.85" stroke="#2a2a2a" stroke-width="0.75"/>
<line x1="189.13" y1="394.82" x2="191.47" y2="396.18" stroke="#2a2a2a" stroke-width="0.75"/>
<line x1="191.47" y1="394.82" x2="189.13" y2="396.18" stroke="#2a2a2a" stroke-width="0.75"/>
<line x1="193.80" y1="394.15" x2="193.80" y2="396.85" stroke="#2a2a2a" stroke-width="0.75"/>
<line x1="192.63" y1="394.82" x2="194.97" y2="396.18" stroke="#2a2a2a" stroke-width="0.75"/>
<line x1="194.97" y1="394.82" x2="192.63" y2="396.18" stroke="#2a2a2a" stroke-width="0.75"/>
<line x1="207.35" y1="394.15" x2="207.35" y2="396.85" stroke="#2a2a2a" stroke-width="0.75"/>
<line x1="206.18" y1="394.82" x2="208.52" y2="396.18" stroke="#2a2a2a" stroke-width="0.75"/>
<line x1="208.52" y1="394.82" x2="206.18" y2="396.18" stroke="#2a2a2a" stroke-width="0.75"/>
<line x1="210.85" y1="394.15" x2="210.85" y2="396.85" stroke="#2a2a2a" stroke-width="0.75"/>
<line x1="209.68" y1="394.82" x2="212.02" y2="396.18" stroke="#2a2a2a" stroke-width="0.75"/>
<line x1="212.02" y1="394.82" x2="209.68" y2="396.18" stroke="#2a2a2a" stroke-width="0.75"/>
<line x1="214.35" y1="394.15" x2="214.35" y2="396.85" stroke="#2a2a2a" stroke-width="0.75"/>
<line x1="213.18" y1="394.82" x2="215.52" y2="396.18" stroke="#2a2a2a" stroke-width="0.75"/>
<line x1="215.52" y1="394.82" x2="213.18" y2="396.18" stroke="#2a2a2a" stroke-width="0.75"/>
<line x1="227.90" y1="381.85" x2="227.90" y2="384.55" stroke="#2a2a2a" stroke-width="0.75"/>
<line x1="226.73" y1="382.52" x2="229.07" y2="383.88" stroke="#2a2a2a" stroke-width="0.75"/>
<line x1="229.07" y1="382.52" x2="226.73" y2="383.88" stroke="#2a2a2a" stroke-width="0.75"/>
<line x1="231.40" y1="381.85" x2="231.40" y2="384.55" stroke="#2a2a2a" stroke-width="0.75"/>
<line x1="230.23" y1="382.52" x2="232.57" y2="383.88" stroke="#2a2a2a" stroke-width="0.75"/>
<line x1="232.57" y1="382.52" x2="230.23" y2="383.88" stroke="#2a2a2a" stroke-width="0.75"/>
<line x1="234.90" y1="381.85" x2="234.90" y2="384.55" stroke="#2a2a2a" stroke-width="0.75"/>
<line x1="233.73" y1="382.52" x2="236.07" y2="383.88" stroke="#2a2a2a" stroke-width="0.75"/>
<line x1="236.07" y1="382.52" x2="233.73" y2="383.88" stroke="#2a2a2a" stroke-width="0.75"/>
<text x="62.50" y="390.00" font-size="8.6" text-anchor="start" fill="#231f20" textLength="25.5" lengthAdjust="spacingAndGlyphs">PI-103</text>
<text x="149.30" y="474.00" font-size="10.6" text-anchor="middle" fill="#231f20" textLength="71" lengthAdjust="spacingAndGlyphs">Post-treatment time</text>
<text x="34.50" y="306.80" font-size="10.2" text-anchor="middle" fill="#231f20" textLength="45" lengthAdjust="spacingAndGlyphs" transform="rotate(-90 34.50 306.80)">NGFR+ (%)</text>
<text x="34.50" y="410.80" font-size="10.2" text-anchor="middle" fill="#231f20" textLength="45" lengthAdjust="spacingAndGlyphs" transform="rotate(-90 34.50 410.80)">NGFR+ (%)</text>
<path d="M325.00 338.27 L345.49 337.94 L365.98 338.10 L386.46 338.10 L406.95 338.27 L427.44 337.29 L447.92 339.24 L468.41 339.24 L488.90 340.22 L488.90 340.55 L468.41 340.55 L447.92 340.55 L427.44 340.55 L406.95 340.55 L386.46 340.55 L365.98 340.55 L345.49 340.55 L325.00 340.55 Z" fill="#c9a6c6" fill-opacity="0.6" stroke="none"/>
<polyline points="325.00,338.59 345.49,338.27 365.98,338.27 386.46,338.27 406.95,338.59 427.44,338.92 447.92,339.24 468.41,339.24 488.90,340.22" fill="none" stroke="#EBA3B3" stroke-width="0.9" stroke-linejoin="round"/>
<circle cx="325.00" cy="338.59" r="0.85" fill="#EBA3B3"/>
<circle cx="345.49" cy="338.27" r="0.85" fill="#EBA3B3"/>
<circle cx="365.98" cy="338.27" r="0.85" fill="#EBA3B3"/>
<circle cx="386.46" cy="338.27" r="0.85" fill="#EBA3B3"/>
<circle cx="406.95" cy="338.59" r="0.85" fill="#EBA3B3"/>
<circle cx="427.44" cy="338.92" r="0.85" fill="#EBA3B3"/>
<circle cx="447.92" cy="339.24" r="0.85" fill="#EBA3B3"/>
<circle cx="468.41" cy="339.24" r="0.85" fill="#EBA3B3"/>
<circle cx="488.90" cy="340.22" r="0.85" fill="#EBA3B3"/>
<polyline points="325.00,339.57 345.49,339.57 365.98,339.57 386.46,339.57 406.95,339.57 427.44,339.57 447.92,339.57 468.41,339.57 488.90,340.22" fill="none" stroke="#C8102E" stroke-width="0.9" stroke-linejoin="round"/>
<circle cx="325.00" cy="339.57" r="0.85" fill="#C8102E"/>
<circle cx="345.49" cy="339.57" r="0.85" fill="#C8102E"/>
<circle cx="365.98" cy="339.57" r="0.85" fill="#C8102E"/>
<circle cx="386.46" cy="339.57" r="0.85" fill="#C8102E"/>
<circle cx="406.95" cy="339.57" r="0.85" fill="#C8102E"/>
<circle cx="427.44" cy="339.57" r="0.85" fill="#C8102E"/>
<circle cx="447.92" cy="339.57" r="0.85" fill="#C8102E"/>
<circle cx="468.41" cy="339.57" r="0.85" fill="#C8102E"/>
<circle cx="488.90" cy="340.22" r="0.85" fill="#C8102E"/>
<polyline points="325.00,339.24 345.49,338.59 365.98,338.59 386.46,338.59 406.95,338.92 427.44,337.29 447.92,339.57 468.41,339.57 488.90,340.22" fill="none" stroke="#9EC5DC" stroke-width="0.9" stroke-linejoin="round"/>
<circle cx="325.00" cy="339.24" r="0.85" fill="#9EC5DC"/>
<circle cx="345.49" cy="338.59" r="0.85" fill="#9EC5DC"/>
<circle cx="365.98" cy="338.59" r="0.85" fill="#9EC5DC"/>
<circle cx="386.46" cy="338.59" r="0.85" fill="#9EC5DC"/>
<circle cx="406.95" cy="338.92" r="0.85" fill="#9EC5DC"/>
<circle cx="427.44" cy="337.29" r="0.85" fill="#9EC5DC"/>
<circle cx="447.92" cy="339.57" r="0.85" fill="#9EC5DC"/>
<circle cx="468.41" cy="339.57" r="0.85" fill="#9EC5DC"/>
<circle cx="488.90" cy="340.22" r="0.85" fill="#9EC5DC"/>
<polyline points="325.00,339.90 345.49,339.90 365.98,339.90 386.46,339.90 406.95,339.90 427.44,339.90 447.92,339.90 468.41,338.92 488.90,340.22" fill="none" stroke="#4E2A6E" stroke-width="1.0" stroke-linejoin="round"/>
<circle cx="325.00" cy="339.90" r="0.85" fill="#4E2A6E"/>
<circle cx="345.49" cy="339.90" r="0.85" fill="#4E2A6E"/>
<circle cx="365.98" cy="339.90" r="0.85" fill="#4E2A6E"/>
<circle cx="386.46" cy="339.90" r="0.85" fill="#4E2A6E"/>
<circle cx="406.95" cy="339.90" r="0.85" fill="#4E2A6E"/>
<circle cx="427.44" cy="339.90" r="0.85" fill="#4E2A6E"/>
<circle cx="447.92" cy="339.90" r="0.85" fill="#4E2A6E"/>
<circle cx="468.41" cy="338.92" r="0.85" fill="#4E2A6E"/>
<circle cx="488.90" cy="340.22" r="0.85" fill="#4E2A6E"/>
<polyline points="325.00,338.59 345.49,337.94 365.98,338.27 386.46,338.27 406.95,338.59 427.44,336.31 447.92,339.57 468.41,339.24 488.90,340.22" fill="none" stroke="#2D6496" stroke-width="1.1" stroke-linejoin="round"/>
<circle cx="325.00" cy="338.59" r="0.85" fill="#2D6496"/>
<circle cx="345.49" cy="337.94" r="0.85" fill="#2D6496"/>
<circle cx="365.98" cy="338.27" r="0.85" fill="#2D6496"/>
<circle cx="386.46" cy="338.27" r="0.85" fill="#2D6496"/>
<circle cx="406.95" cy="338.59" r="0.85" fill="#2D6496"/>
<circle cx="427.44" cy="336.31" r="0.85" fill="#2D6496"/>
<circle cx="447.92" cy="339.57" r="0.85" fill="#2D6496"/>
<circle cx="468.41" cy="339.24" r="0.85" fill="#2D6496"/>
<circle cx="488.90" cy="340.22" r="0.85" fill="#2D6496"/>
<line x1="313.80" y1="273.00" x2="313.80" y2="342.20" stroke="#231f20" stroke-width="1.5"/>
<line x1="313.10" y1="341.20" x2="498.80" y2="341.20" stroke="#231f20" stroke-width="1.5"/>
<line x1="310.30" y1="341.20" x2="313.80" y2="341.20" stroke="#231f20" stroke-width="1.1"/>
<text x="306.20" y="343.80" font-size="7.3" text-anchor="end" fill="#231f20">0</text>
<line x1="310.30" y1="324.90" x2="313.80" y2="324.90" stroke="#231f20" stroke-width="1.1"/>
<text x="306.20" y="327.50" font-size="7.3" text-anchor="end" fill="#231f20">5</text>
<line x1="310.30" y1="308.60" x2="313.80" y2="308.60" stroke="#231f20" stroke-width="1.1"/>
<text x="306.20" y="311.20" font-size="7.3" text-anchor="end" fill="#231f20">10</text>
<line x1="310.30" y1="292.30" x2="313.80" y2="292.30" stroke="#231f20" stroke-width="1.1"/>
<text x="306.20" y="294.90" font-size="7.3" text-anchor="end" fill="#231f20">15</text>
<line x1="310.30" y1="276.00" x2="313.80" y2="276.00" stroke="#231f20" stroke-width="1.1"/>
<text x="306.20" y="278.60" font-size="7.3" text-anchor="end" fill="#231f20">20</text>
<line x1="325.00" y1="336.90" x2="325.00" y2="344.20" stroke="#231f20" stroke-width="1.1"/>
<text x="325.00" y="355.50" font-size="7.4" text-anchor="middle" fill="#231f20">0</text>
<line x1="345.49" y1="336.90" x2="345.49" y2="344.20" stroke="#231f20" stroke-width="1.1"/>
<text x="345.49" y="355.50" font-size="7.4" text-anchor="middle" fill="#231f20">10'</text>
<line x1="365.98" y1="336.90" x2="365.98" y2="344.20" stroke="#231f20" stroke-width="1.1"/>
<text x="365.98" y="355.50" font-size="7.4" text-anchor="middle" fill="#231f20">30'</text>
<line x1="386.46" y1="336.90" x2="386.46" y2="344.20" stroke="#231f20" stroke-width="1.1"/>
<text x="386.46" y="355.50" font-size="7.4" text-anchor="middle" fill="#231f20">1h</text>
<line x1="406.95" y1="336.90" x2="406.95" y2="344.20" stroke="#231f20" stroke-width="1.1"/>
<text x="406.95" y="355.50" font-size="7.4" text-anchor="middle" fill="#231f20">3h</text>
<line x1="427.44" y1="336.90" x2="427.44" y2="344.20" stroke="#231f20" stroke-width="1.1"/>
<text x="427.44" y="355.50" font-size="7.4" text-anchor="middle" fill="#231f20">6h</text>
<line x1="447.92" y1="336.90" x2="447.92" y2="344.20" stroke="#231f20" stroke-width="1.1"/>
<text x="447.92" y="355.50" font-size="7.4" text-anchor="middle" fill="#231f20">12h</text>
<line x1="468.41" y1="336.90" x2="468.41" y2="344.20" stroke="#231f20" stroke-width="1.1"/>
<text x="468.41" y="355.50" font-size="7.4" text-anchor="middle" fill="#231f20">24h</text>
<line x1="488.90" y1="336.90" x2="488.90" y2="344.20" stroke="#231f20" stroke-width="1.1"/>
<text x="488.90" y="355.50" font-size="7.4" text-anchor="middle" fill="#231f20">48h</text>
<text x="321.00" y="286.00" font-size="8.6" text-anchor="start" fill="#231f20" textLength="21.5" lengthAdjust="spacingAndGlyphs">mock</text>
<polyline points="325.00,441.04 345.49,439.08 365.98,440.39 386.46,437.78 406.95,438.43 427.44,441.04 447.92,443.32 468.41,443.32 488.90,443.65" fill="none" stroke="#EBA3B3" stroke-width="0.9" stroke-linejoin="round"/>
<circle cx="325.00" cy="441.04" r="0.85" fill="#EBA3B3"/>
<circle cx="345.49" cy="439.08" r="0.85" fill="#EBA3B3"/>
<circle cx="365.98" cy="440.39" r="0.85" fill="#EBA3B3"/>
<circle cx="386.46" cy="437.78" r="0.85" fill="#EBA3B3"/>
<circle cx="406.95" cy="438.43" r="0.85" fill="#EBA3B3"/>
<circle cx="427.44" cy="441.04" r="0.85" fill="#EBA3B3"/>
<circle cx="447.92" cy="443.32" r="0.85" fill="#EBA3B3"/>
<circle cx="468.41" cy="443.32" r="0.85" fill="#EBA3B3"/>
<circle cx="488.90" cy="443.65" r="0.85" fill="#EBA3B3"/>
<polyline points="325.00,441.69 345.49,442.67 365.98,442.67 386.46,438.11 406.95,439.08 427.44,435.17 447.92,443.32 468.41,443.32 488.90,443.65" fill="none" stroke="#C8102E" stroke-width="0.9" stroke-linejoin="round"/>
<circle cx="325.00" cy="441.69" r="0.85" fill="#C8102E"/>
<circle cx="345.49" cy="442.67" r="0.85" fill="#C8102E"/>
<circle cx="365.98" cy="442.67" r="0.85" fill="#C8102E"/>
<circle cx="386.46" cy="438.11" r="0.85" fill="#C8102E"/>
<circle cx="406.95" cy="439.08" r="0.85" fill="#C8102E"/>
<circle cx="427.44" cy="435.17" r="0.85" fill="#C8102E"/>
<line x1="427.44" y1="431.91" x2="427.44" y2="438.43" stroke="#C8102E" stroke-width="0.8"/>
<line x1="425.64" y1="431.91" x2="429.24" y2="431.91" stroke="#C8102E" stroke-width="0.8"/>
<line x1="425.64" y1="438.43" x2="429.24" y2="438.43" stroke="#C8102E" stroke-width="0.8"/>
<circle cx="447.92" cy="443.32" r="0.85" fill="#C8102E"/>
<circle cx="468.41" cy="443.32" r="0.85" fill="#C8102E"/>
<circle cx="488.90" cy="443.65" r="0.85" fill="#C8102E"/>
<polyline points="325.00,443.32 345.49,443.32 365.98,443.32 386.46,434.85 406.95,428.33 427.44,427.02 447.92,427.02 468.41,431.91 488.90,443.00" fill="none" stroke="#9EC5DC" stroke-width="0.9" stroke-linejoin="round"/>
<circle cx="325.00" cy="443.32" r="0.85" fill="#9EC5DC"/>
<circle cx="345.49" cy="443.32" r="0.85" fill="#9EC5DC"/>
<circle cx="365.98" cy="443.32" r="0.85" fill="#9EC5DC"/>
<circle cx="386.46" cy="434.85" r="0.85" fill="#9EC5DC"/>
<line x1="386.46" y1="431.59" x2="386.46" y2="438.11" stroke="#9EC5DC" stroke-width="0.8"/>
<line x1="384.66" y1="431.59" x2="388.26" y2="431.59" stroke="#9EC5DC" stroke-width="0.8"/>
<line x1="384.66" y1="438.11" x2="388.26" y2="438.11" stroke="#9EC5DC" stroke-width="0.8"/>
<circle cx="406.95" cy="428.33" r="0.85" fill="#9EC5DC"/>
<line x1="406.95" y1="425.07" x2="406.95" y2="431.59" stroke="#9EC5DC" stroke-width="0.8"/>
<line x1="405.15" y1="425.07" x2="408.75" y2="425.07" stroke="#9EC5DC" stroke-width="0.8"/>
<line x1="405.15" y1="431.59" x2="408.75" y2="431.59" stroke="#9EC5DC" stroke-width="0.8"/>
<circle cx="427.44" cy="427.02" r="0.85" fill="#9EC5DC"/>
<line x1="427.44" y1="421.81" x2="427.44" y2="432.24" stroke="#9EC5DC" stroke-width="0.8"/>
<line x1="425.64" y1="421.81" x2="429.24" y2="421.81" stroke="#9EC5DC" stroke-width="0.8"/>
<line x1="425.64" y1="432.24" x2="429.24" y2="432.24" stroke="#9EC5DC" stroke-width="0.8"/>
<circle cx="447.92" cy="427.02" r="0.85" fill="#9EC5DC"/>
<line x1="447.92" y1="422.13" x2="447.92" y2="431.91" stroke="#9EC5DC" stroke-width="0.8"/>
<line x1="446.12" y1="422.13" x2="449.72" y2="422.13" stroke="#9EC5DC" stroke-width="0.8"/>
<line x1="446.12" y1="431.91" x2="449.72" y2="431.91" stroke="#9EC5DC" stroke-width="0.8"/>
<circle cx="468.41" cy="431.91" r="0.85" fill="#9EC5DC"/>
<circle cx="488.90" cy="443.00" r="0.85" fill="#9EC5DC"/>
<polyline points="325.00,443.32 345.49,443.32 365.98,443.32 386.46,424.09 406.95,423.76 427.44,439.74 447.92,427.02 468.41,435.17 488.90,434.52" fill="none" stroke="#2D6496" stroke-width="1.1" stroke-linejoin="round"/>
<circle cx="325.00" cy="443.32" r="0.85" fill="#2D6496"/>
<circle cx="345.49" cy="443.32" r="0.85" fill="#2D6496"/>
<circle cx="365.98" cy="443.32" r="0.85" fill="#2D6496"/>
<circle cx="386.46" cy="424.09" r="0.85" fill="#2D6496"/>
<line x1="386.46" y1="404.53" x2="386.46" y2="443.65" stroke="#2D6496" stroke-width="0.8"/>
<line x1="384.66" y1="404.53" x2="388.26" y2="404.53" stroke="#2D6496" stroke-width="0.8"/>
<line x1="384.66" y1="443.65" x2="388.26" y2="443.65" stroke="#2D6496" stroke-width="0.8"/>
<circle cx="406.95" cy="423.76" r="0.85" fill="#2D6496"/>
<line x1="406.95" y1="404.20" x2="406.95" y2="443.32" stroke="#2D6496" stroke-width="0.8"/>
<line x1="405.15" y1="404.20" x2="408.75" y2="404.20" stroke="#2D6496" stroke-width="0.8"/>
<line x1="405.15" y1="443.32" x2="408.75" y2="443.32" stroke="#2D6496" stroke-width="0.8"/>
<circle cx="427.44" cy="439.74" r="0.85" fill="#2D6496"/>
<line x1="427.44" y1="436.48" x2="427.44" y2="443.00" stroke="#2D6496" stroke-width="0.8"/>
<line x1="425.64" y1="436.48" x2="429.24" y2="436.48" stroke="#2D6496" stroke-width="0.8"/>
<line x1="425.64" y1="443.00" x2="429.24" y2="443.00" stroke="#2D6496" stroke-width="0.8"/>
<circle cx="447.92" cy="427.02" r="0.85" fill="#2D6496"/>
<line x1="447.92" y1="420.50" x2="447.92" y2="433.54" stroke="#2D6496" stroke-width="0.8"/>
<line x1="446.12" y1="420.50" x2="449.72" y2="420.50" stroke="#2D6496" stroke-width="0.8"/>
<line x1="446.12" y1="433.54" x2="449.72" y2="433.54" stroke="#2D6496" stroke-width="0.8"/>
<circle cx="468.41" cy="435.17" r="0.85" fill="#2D6496"/>
<line x1="468.41" y1="433.54" x2="468.41" y2="436.80" stroke="#2D6496" stroke-width="0.8"/>
<line x1="466.61" y1="433.54" x2="470.21" y2="433.54" stroke="#2D6496" stroke-width="0.8"/>
<line x1="466.61" y1="436.80" x2="470.21" y2="436.80" stroke="#2D6496" stroke-width="0.8"/>
<circle cx="488.90" cy="434.52" r="0.85" fill="#2D6496"/>
<line x1="488.90" y1="433.22" x2="488.90" y2="435.82" stroke="#2D6496" stroke-width="0.8"/>
<line x1="487.10" y1="433.22" x2="490.70" y2="433.22" stroke="#2D6496" stroke-width="0.8"/>
<line x1="487.10" y1="435.82" x2="490.70" y2="435.82" stroke="#2D6496" stroke-width="0.8"/>
<polyline points="325.00,442.67 345.49,442.67 365.98,442.67 386.46,424.09 406.95,411.37 427.44,384.97 447.92,408.11 468.41,408.11 488.90,415.61" fill="none" stroke="#4E2A6E" stroke-width="1.0" stroke-linejoin="round"/>
<circle cx="325.00" cy="442.67" r="0.85" fill="#4E2A6E"/>
<circle cx="345.49" cy="442.67" r="0.85" fill="#4E2A6E"/>
<circle cx="365.98" cy="442.67" r="0.85" fill="#4E2A6E"/>
<circle cx="386.46" cy="424.09" r="0.85" fill="#4E2A6E"/>
<circle cx="406.95" cy="411.37" r="0.85" fill="#4E2A6E"/>
<circle cx="427.44" cy="384.97" r="0.85" fill="#4E2A6E"/>
<line x1="427.44" y1="383.66" x2="427.44" y2="386.27" stroke="#4E2A6E" stroke-width="0.8"/>
<line x1="425.64" y1="383.66" x2="429.24" y2="383.66" stroke="#4E2A6E" stroke-width="0.8"/>
<line x1="425.64" y1="386.27" x2="429.24" y2="386.27" stroke="#4E2A6E" stroke-width="0.8"/>
<circle cx="447.92" cy="408.11" r="0.85" fill="#4E2A6E"/>
<line x1="447.92" y1="404.85" x2="447.92" y2="411.37" stroke="#4E2A6E" stroke-width="0.8"/>
<line x1="446.12" y1="404.85" x2="449.72" y2="404.85" stroke="#4E2A6E" stroke-width="0.8"/>
<line x1="446.12" y1="411.37" x2="449.72" y2="411.37" stroke="#4E2A6E" stroke-width="0.8"/>
<circle cx="468.41" cy="408.11" r="0.85" fill="#4E2A6E"/>
<line x1="468.41" y1="405.51" x2="468.41" y2="410.72" stroke="#4E2A6E" stroke-width="0.8"/>
<line x1="466.61" y1="405.51" x2="470.21" y2="405.51" stroke="#4E2A6E" stroke-width="0.8"/>
<line x1="466.61" y1="410.72" x2="470.21" y2="410.72" stroke="#4E2A6E" stroke-width="0.8"/>
<circle cx="488.90" cy="415.61" r="0.85" fill="#4E2A6E"/>
<line x1="488.90" y1="414.31" x2="488.90" y2="416.92" stroke="#4E2A6E" stroke-width="0.8"/>
<line x1="487.10" y1="414.31" x2="490.70" y2="414.31" stroke="#4E2A6E" stroke-width="0.8"/>
<line x1="487.10" y1="416.92" x2="490.70" y2="416.92" stroke="#4E2A6E" stroke-width="0.8"/>
<line x1="313.80" y1="376.00" x2="313.80" y2="445.30" stroke="#231f20" stroke-width="1.5"/>
<line x1="313.10" y1="444.30" x2="498.80" y2="444.30" stroke="#231f20" stroke-width="1.5"/>
<line x1="310.30" y1="444.30" x2="313.80" y2="444.30" stroke="#231f20" stroke-width="1.1"/>
<text x="306.20" y="446.90" font-size="7.3" text-anchor="end" fill="#231f20">0</text>
<line x1="310.30" y1="428.00" x2="313.80" y2="428.00" stroke="#231f20" stroke-width="1.1"/>
<text x="306.20" y="430.60" font-size="7.3" text-anchor="end" fill="#231f20">5</text>
<line x1="310.30" y1="411.70" x2="313.80" y2="411.70" stroke="#231f20" stroke-width="1.1"/>
<text x="306.20" y="414.30" font-size="7.3" text-anchor="end" fill="#231f20">10</text>
<line x1="310.30" y1="395.40" x2="313.80" y2="395.40" stroke="#231f20" stroke-width="1.1"/>
<text x="306.20" y="398.00" font-size="7.3" text-anchor="end" fill="#231f20">15</text>
<line x1="310.30" y1="379.10" x2="313.80" y2="379.10" stroke="#231f20" stroke-width="1.1"/>
<text x="306.20" y="381.70" font-size="7.3" text-anchor="end" fill="#231f20">30</text>
<line x1="325.00" y1="440.00" x2="325.00" y2="447.30" stroke="#231f20" stroke-width="1.1"/>
<text x="325.00" y="458.60" font-size="7.4" text-anchor="middle" fill="#231f20">0</text>
<line x1="345.49" y1="440.00" x2="345.49" y2="447.30" stroke="#231f20" stroke-width="1.1"/>
<text x="345.49" y="458.60" font-size="7.4" text-anchor="middle" fill="#231f20">10'</text>
<line x1="365.98" y1="440.00" x2="365.98" y2="447.30" stroke="#231f20" stroke-width="1.1"/>
<text x="365.98" y="458.60" font-size="7.4" text-anchor="middle" fill="#231f20">30'</text>
<line x1="386.46" y1="440.00" x2="386.46" y2="447.30" stroke="#231f20" stroke-width="1.1"/>
<text x="386.46" y="458.60" font-size="7.4" text-anchor="middle" fill="#231f20">1h</text>
<line x1="406.95" y1="440.00" x2="406.95" y2="447.30" stroke="#231f20" stroke-width="1.1"/>
<text x="406.95" y="458.60" font-size="7.4" text-anchor="middle" fill="#231f20">3h</text>
<line x1="427.44" y1="440.00" x2="427.44" y2="447.30" stroke="#231f20" stroke-width="1.1"/>
<text x="427.44" y="458.60" font-size="7.4" text-anchor="middle" fill="#231f20">6h</text>
<line x1="447.92" y1="440.00" x2="447.92" y2="447.30" stroke="#231f20" stroke-width="1.1"/>
<text x="447.92" y="458.60" font-size="7.4" text-anchor="middle" fill="#231f20">12h</text>
<line x1="468.41" y1="440.00" x2="468.41" y2="447.30" stroke="#231f20" stroke-width="1.1"/>
<text x="468.41" y="458.60" font-size="7.4" text-anchor="middle" fill="#231f20">24h</text>
<line x1="488.90" y1="440.00" x2="488.90" y2="447.30" stroke="#231f20" stroke-width="1.1"/>
<text x="488.90" y="458.60" font-size="7.4" text-anchor="middle" fill="#231f20">48h</text>
<line x1="423.94" y1="377.25" x2="423.94" y2="379.95" stroke="#2a2a2a" stroke-width="0.75"/>
<line x1="422.77" y1="377.93" x2="425.11" y2="379.28" stroke="#2a2a2a" stroke-width="0.75"/>
<line x1="425.11" y1="377.93" x2="422.77" y2="379.28" stroke="#2a2a2a" stroke-width="0.75"/>
<line x1="427.44" y1="377.25" x2="427.44" y2="379.95" stroke="#2a2a2a" stroke-width="0.75"/>
<line x1="426.27" y1="377.93" x2="428.61" y2="379.28" stroke="#2a2a2a" stroke-width="0.75"/>
<line x1="428.61" y1="377.93" x2="426.27" y2="379.28" stroke="#2a2a2a" stroke-width="0.75"/>
<line x1="430.94" y1="377.25" x2="430.94" y2="379.95" stroke="#2a2a2a" stroke-width="0.75"/>
<line x1="429.77" y1="377.93" x2="432.11" y2="379.28" stroke="#2a2a2a" stroke-width="0.75"/>
<line x1="432.11" y1="377.93" x2="429.77" y2="379.28" stroke="#2a2a2a" stroke-width="0.75"/>
<line x1="446.17" y1="397.95" x2="446.17" y2="400.65" stroke="#2a2a2a" stroke-width="0.75"/>
<line x1="445.01" y1="398.62" x2="447.34" y2="399.98" stroke="#2a2a2a" stroke-width="0.75"/>
<line x1="447.34" y1="398.62" x2="445.01" y2="399.98" stroke="#2a2a2a" stroke-width="0.75"/>
<line x1="449.67" y1="397.95" x2="449.67" y2="400.65" stroke="#2a2a2a" stroke-width="0.75"/>
<line x1="448.51" y1="398.62" x2="450.84" y2="399.98" stroke="#2a2a2a" stroke-width="0.75"/>
<line x1="450.84" y1="398.62" x2="448.51" y2="399.98" stroke="#2a2a2a" stroke-width="0.75"/>
<line x1="464.91" y1="399.25" x2="464.91" y2="401.95" stroke="#2a2a2a" stroke-width="0.75"/>
<line x1="463.74" y1="399.93" x2="466.08" y2="401.28" stroke="#2a2a2a" stroke-width="0.75"/>
<line x1="466.08" y1="399.93" x2="463.74" y2="401.28" stroke="#2a2a2a" stroke-width="0.75"/>
<line x1="468.41" y1="399.25" x2="468.41" y2="401.95" stroke="#2a2a2a" stroke-width="0.75"/>
<line x1="467.24" y1="399.93" x2="469.58" y2="401.28" stroke="#2a2a2a" stroke-width="0.75"/>
<line x1="469.58" y1="399.93" x2="467.24" y2="401.28" stroke="#2a2a2a" stroke-width="0.75"/>
<line x1="471.91" y1="399.25" x2="471.91" y2="401.95" stroke="#2a2a2a" stroke-width="0.75"/>
<line x1="470.74" y1="399.93" x2="473.08" y2="401.28" stroke="#2a2a2a" stroke-width="0.75"/>
<line x1="473.08" y1="399.93" x2="470.74" y2="401.28" stroke="#2a2a2a" stroke-width="0.75"/>
<line x1="485.40" y1="407.85" x2="485.40" y2="410.55" stroke="#2a2a2a" stroke-width="0.75"/>
<line x1="484.23" y1="408.52" x2="486.57" y2="409.88" stroke="#2a2a2a" stroke-width="0.75"/>
<line x1="486.57" y1="408.52" x2="484.23" y2="409.88" stroke="#2a2a2a" stroke-width="0.75"/>
<line x1="488.90" y1="407.85" x2="488.90" y2="410.55" stroke="#2a2a2a" stroke-width="0.75"/>
<line x1="487.73" y1="408.52" x2="490.07" y2="409.88" stroke="#2a2a2a" stroke-width="0.75"/>
<line x1="490.07" y1="408.52" x2="487.73" y2="409.88" stroke="#2a2a2a" stroke-width="0.75"/>
<line x1="492.40" y1="407.85" x2="492.40" y2="410.55" stroke="#2a2a2a" stroke-width="0.75"/>
<line x1="491.23" y1="408.52" x2="493.57" y2="409.88" stroke="#2a2a2a" stroke-width="0.75"/>
<line x1="493.57" y1="408.52" x2="491.23" y2="409.88" stroke="#2a2a2a" stroke-width="0.75"/>
<text x="321.00" y="390.00" font-size="8.6" text-anchor="start" fill="#231f20" textLength="25.5" lengthAdjust="spacingAndGlyphs">PI-103</text>
<text x="407.20" y="474.00" font-size="10.6" text-anchor="middle" fill="#231f20" textLength="71" lengthAdjust="spacingAndGlyphs">Post-treatment time</text>
<text x="291.80" y="307.20" font-size="10.6" text-anchor="middle" fill="#231f20" textLength="39" lengthAdjust="spacingAndGlyphs" transform="rotate(-90 291.80 307.20)">GFP+ (%)</text>
<text x="291.80" y="410.50" font-size="10.6" text-anchor="middle" fill="#231f20" textLength="39" lengthAdjust="spacingAndGlyphs" transform="rotate(-90 291.80 410.50)">GFP+ (%)</text>
<line x1="58.80" y1="490.80" x2="72.80" y2="490.80" stroke="#2D6496" stroke-width="1.6"/>
<text x="76.80" y="493.80" font-size="8.5" text-anchor="start" fill="#231f20" textLength="46.4" lengthAdjust="spacingAndGlyphs">shFOXO3_98</text>
<line x1="58.80" y1="503.00" x2="72.80" y2="503.00" stroke="#9EC5DC" stroke-width="1.0"/>
<text x="76.80" y="506.00" font-size="8.5" text-anchor="start" fill="#231f20" textLength="50.8" lengthAdjust="spacingAndGlyphs">shFOXO3_102</text>
<line x1="58.80" y1="515.00" x2="72.80" y2="515.00" stroke="#4E2A6E" stroke-width="1.6"/>
<text x="76.80" y="518.00" font-size="8.5" text-anchor="start" fill="#231f20" textLength="41.5" lengthAdjust="spacingAndGlyphs">sh-scramble</text>
<line x1="138.80" y1="490.80" x2="152.80" y2="490.80" stroke="#C8102E" stroke-width="1.6"/>
<text x="156.80" y="493.80" font-size="8.5" text-anchor="start" fill="#231f20" textLength="50.8" lengthAdjust="spacingAndGlyphs">shCTNNB1_21</text>
<line x1="138.80" y1="503.00" x2="152.80" y2="503.00" stroke="#EBA3B3" stroke-width="1.0"/>
<text x="156.80" y="506.00" font-size="8.5" text-anchor="start" fill="#231f20" textLength="50.8" lengthAdjust="spacingAndGlyphs">shCTNNB1_91</text>
<line x1="316.00" y1="490.80" x2="330.00" y2="490.80" stroke="#2D6496" stroke-width="1.6"/>
<text x="335.00" y="493.80" font-size="8.5" text-anchor="start" fill="#231f20" textLength="46.4" lengthAdjust="spacingAndGlyphs">shFOXO3_98</text>
<line x1="316.00" y1="503.00" x2="330.00" y2="503.00" stroke="#9EC5DC" stroke-width="1.0"/>
<text x="335.00" y="506.00" font-size="8.5" text-anchor="start" fill="#231f20" textLength="50.8" lengthAdjust="spacingAndGlyphs">shFOXO3_102</text>
<line x1="316.00" y1="515.00" x2="330.00" y2="515.00" stroke="#4E2A6E" stroke-width="1.6"/>
<text x="335.00" y="518.00" font-size="8.5" text-anchor="start" fill="#231f20" textLength="41.5" lengthAdjust="spacingAndGlyphs">sh-scramble</text>
<line x1="396.00" y1="490.80" x2="410.00" y2="490.80" stroke="#C8102E" stroke-width="1.6"/>
<text x="415.00" y="493.80" font-size="8.5" text-anchor="start" fill="#231f20" textLength="50.8" lengthAdjust="spacingAndGlyphs">shCTNNB1_21</text>
<line x1="396.00" y1="503.00" x2="410.00" y2="503.00" stroke="#EBA3B3" stroke-width="1.0"/>
<text x="415.00" y="506.00" font-size="8.5" text-anchor="start" fill="#231f20" textLength="50.8" lengthAdjust="spacingAndGlyphs">shCTNNB1_91</text>
<text x="2.20" y="549.30" font-size="12.3" text-anchor="start" fill="#000" font-weight="bold">E</text>
<path d="M23 593 H32.5 V627 A4.75 4.75 0 0 1 23 627 Z" fill="#EEF4FA" stroke="#cfd8e0" stroke-width="0.5"/>
<path d="M23 602.5 H32.5 V627 A4.75 4.75 0 0 1 23 627 Z" fill="#D7192A" stroke="none" stroke-width="1"/>
<rect x="23.40" y="604.00" width="1.60" height="22.00" fill="#F05A5A" stroke="none" stroke-width="0"/>
<rect x="22" y="587.8" width="12" height="5" rx="2" fill="#2C9AD6"/>
<text x="28.80" y="644.00" font-size="10.2" text-anchor="middle" fill="#231f20" textLength="18.6" lengthAdjust="spacingAndGlyphs">PDX</text>
<text x="59.50" y="581.00" font-size="9.6" text-anchor="middle" fill="#231f20" textLength="31" lengthAdjust="spacingAndGlyphs">7TGC+</text>
<text x="60.00" y="593.00" font-size="9.8" text-anchor="middle" fill="#231f20" textLength="32.6" lengthAdjust="spacingAndGlyphs">3DNm8</text>
<text x="59.50" y="605.00" font-size="9.6" text-anchor="middle" fill="#231f20" textLength="22" lengthAdjust="spacingAndGlyphs">virus</text>
<text x="102.00" y="592.00" font-size="9.6" text-anchor="middle" fill="#231f20" textLength="16.5" lengthAdjust="spacingAndGlyphs">sort</text>
<text x="102.00" y="603.60" font-size="9.8" text-anchor="middle" fill="#231f20" textLength="34.2" lengthAdjust="spacingAndGlyphs">Cherry+</text>
<text x="102.00" y="614.80" font-size="9.8" text-anchor="middle" fill="#231f20" textLength="34.2" lengthAdjust="spacingAndGlyphs">mCD8+</text>
<line x1="41.00" y1="619.50" x2="69.50" y2="619.50" stroke="#000" stroke-width="1.2"/>
<polygon points="74.00,619.50 69.00,622.10 70.20,619.50 69.00,616.90" fill="#000"/>
<path d="M57 609.5 Q60 617 67.5 617.8" fill="none" stroke="#000" stroke-width="1.0"/>
<polygon points="70.5,618.6 65.8,615.4 66.4,620.2" fill="#000"/>
<line x1="80.00" y1="619.50" x2="108.00" y2="619.50" stroke="#000" stroke-width="1.2"/>
<polygon points="112.50,619.50 107.50,622.10 108.70,619.50 107.50,616.90" fill="#000"/>
<line x1="167.00" y1="620.00" x2="178.20" y2="620.00" stroke="#000" stroke-width="1.2"/>
<polygon points="182.70,620.00 177.70,622.60 178.90,620.00 177.70,617.40" fill="#000"/>
<path d="M127.2 610.3 C123 612 119.8 616 119.4 620 C119 624.5 120.5 628.5 124 630.6 C128 632 134 631.8 139.5 631.3" fill="none" stroke="#161616" stroke-width="0.9"/>
<path d="M127.4 613.6 C123.6 615.6 121.7 619.2 121.6 622.8 C121.6 625.8 123 627.8 125.5 628.9" fill="none" stroke="#161616" stroke-width="0.9"/>
<path d="M128.2 617.8 C125.4 619.6 123.9 622.2 124.2 625.4" fill="none" stroke="#161616" stroke-width="0.9"/>
<path d="M128.30 607.60 C131.00 599.00 137.00 595.00 143.00 595.00 C148.00 595.00 151.00 598.00 154.00 600.00 C158.00 601.50 163.00 603.00 166.30 606.50" fill="none" stroke="#161616" stroke-width="0.95"/>
<path d="M128.46 609.00 C131.00 601.20 136.80 597.60 142.60 597.58 C147.60 597.60 150.80 600.60 153.80 602.60 C157.80 604.30 162.50 605.90 165.44 609.20" fill="none" stroke="#161616" stroke-width="0.95"/>
<path d="M128.62 610.40 C131.00 603.40 136.60 600.20 142.20 600.16 C147.20 600.20 150.60 603.20 153.60 605.20 C157.60 607.10 162.00 608.80 164.58 611.90" fill="none" stroke="#161616" stroke-width="0.95"/>
<path d="M128.78 611.80 C131.00 605.60 136.40 602.80 141.80 602.74 C146.80 602.80 150.40 605.80 153.40 607.80 C157.40 609.90 161.50 611.70 163.72 614.60" fill="none" stroke="#161616" stroke-width="0.95"/>
<path d="M128.94 613.20 C131.00 607.80 136.20 605.40 141.40 605.32 C146.40 605.40 150.20 608.40 153.20 610.40 C157.20 612.70 161.00 614.60 162.86 617.30" fill="none" stroke="#161616" stroke-width="0.95"/>
<circle cx="156.2" cy="598.8" r="1.5" fill="#fff" stroke="#161616" stroke-width="0.8"/>
<circle cx="157.6" cy="602.4" r="1.5" fill="#fff" stroke="#161616" stroke-width="0.8"/>
<circle cx="158.6" cy="606.0" r="1.5" fill="#fff" stroke="#161616" stroke-width="0.8"/>
<path d="M129.1 614.6 C131 610 136 608 141 607.9 C146 608 150 611 153 613 C157 615.5 160.5 617.5 162 620 C160 622 155 623.5 150 623.8 C146 624.5 143 625.6 141 627 L131 627 C128.6 624 128.4 618 129.1 614.6 Z" fill="#fff" stroke="#161616" stroke-width="1.0"/>
<circle cx="156.1" cy="618.4" r="0.95" fill="#161616"/>
<path d="M149.2 612.8 C146.6 613.5 145.6 616 146.6 618 C147.2 619.2 148.5 619.7 149.4 619.5" fill="none" stroke="#161616" stroke-width="0.8"/>
<path d="M140.2 620 V625.4 C141 627 143 627.8 145 628" fill="none" stroke="#161616" stroke-width="0.8"/>
<path d="M144.3 625.2 L147 628 M147.2 624.6 L150.2 626.8" fill="none" stroke="#161616" stroke-width="0.9"/>
<path d="M124 626.6 C130 626.3 136 626.5 140 627.6 M125 628.9 C131 629.1 136 629.3 139.5 629.7" fill="none" stroke="#161616" stroke-width="0.8"/>
<text x="212.90" y="569.30" font-size="10" text-anchor="start" fill="#231f20" textLength="49.8" lengthAdjust="spacingAndGlyphs">2° leukemia</text>
<rect x="213.4" y="574.7" width="50.49999999999997" height="51.299999999999955" fill="#fff" stroke="#b8b8b8" stroke-width="0.7"/>
<path d="M213.4 574.7 V626 H263.9" fill="none" stroke="#777" stroke-width="0.7"/>
<rect x="214.80" y="610.70" width="13.40" height="5.90" rx="1.5" fill="#000"/>
<circle cx="215.87" cy="616.39" r="0.5" fill="#000"/><circle cx="225.56" cy="611.72" r="0.5" fill="#000"/><circle cx="221.43" cy="613.25" r="0.5" fill="#000"/><circle cx="223.83" cy="615.93" r="0.5" fill="#000"/><circle cx="215.25" cy="609.92" r="0.5" fill="#000"/><circle cx="226.67" cy="613.12" r="0.5" fill="#000"/><circle cx="225.54" cy="609.72" r="0.5" fill="#000"/><circle cx="220.66" cy="615.40" r="0.5" fill="#000"/><circle cx="217.32" cy="617.17" r="0.5" fill="#000"/><circle cx="227.68" cy="609.94" r="0.5" fill="#000"/><circle cx="214.19" cy="613.98" r="0.5" fill="#000"/><circle cx="228.26" cy="612.71" r="0.5" fill="#000"/><circle cx="217.14" cy="613.03" r="0.5" fill="#000"/><circle cx="214.25" cy="611.45" r="0.5" fill="#000"/><circle cx="220.54" cy="613.62" r="0.5" fill="#000"/><circle cx="217.39" cy="611.52" r="0.5" fill="#000"/><circle cx="217.17" cy="613.33" r="0.5" fill="#000"/><circle cx="218.26" cy="609.87" r="0.5" fill="#000"/><circle cx="226.70" cy="614.10" r="0.5" fill="#000"/><circle cx="223.69" cy="611.17" r="0.5" fill="#000"/><circle cx="229.09" cy="616.49" r="0.5" fill="#000"/><circle cx="215.66" cy="612.33" r="0.5" fill="#000"/><circle cx="224.91" cy="615.32" r="0.5" fill="#000"/><circle cx="228.22" cy="613.03" r="0.5" fill="#000"/><circle cx="226.58" cy="615.00" r="0.5" fill="#000"/><circle cx="218.47" cy="614.34" r="0.5" fill="#000"/><circle cx="227.39" cy="616.38" r="0.5" fill="#000"/><circle cx="221.58" cy="614.35" r="0.5" fill="#000"/><circle cx="214.33" cy="611.62" r="0.5" fill="#000"/><circle cx="226.08" cy="612.97" r="0.5" fill="#000"/><circle cx="216.46" cy="614.04" r="0.5" fill="#000"/><circle cx="224.63" cy="615.03" r="0.5" fill="#000"/><circle cx="219.57" cy="613.17" r="0.5" fill="#000"/><circle cx="221.63" cy="615.85" r="0.5" fill="#000"/><circle cx="221.82" cy="612.81" r="0.5" fill="#000"/><circle cx="221.34" cy="609.93" r="0.5" fill="#000"/><circle cx="214.47" cy="615.26" r="0.5" fill="#000"/><circle cx="228.94" cy="614.39" r="0.5" fill="#000"/><circle cx="219.86" cy="611.05" r="0.5" fill="#000"/><circle cx="221.53" cy="617.46" r="0.5" fill="#000"/><circle cx="225.67" cy="613.96" r="0.5" fill="#000"/><circle cx="227.05" cy="611.53" r="0.5" fill="#000"/><circle cx="221.71" cy="617.22" r="0.5" fill="#000"/><circle cx="222.70" cy="613.33" r="0.5" fill="#000"/><circle cx="217.95" cy="614.03" r="0.5" fill="#000"/><circle cx="228.54" cy="609.75" r="0.5" fill="#000"/><circle cx="225.87" cy="616.18" r="0.5" fill="#000"/><circle cx="227.45" cy="615.55" r="0.5" fill="#000"/><circle cx="226.26" cy="613.80" r="0.5" fill="#000"/><circle cx="222.44" cy="613.07" r="0.5" fill="#000"/><circle cx="214.66" cy="616.57" r="0.5" fill="#000"/><circle cx="222.58" cy="611.28" r="0.5" fill="#000"/><circle cx="221.57" cy="613.53" r="0.5" fill="#000"/><circle cx="219.29" cy="612.43" r="0.5" fill="#000"/><circle cx="222.09" cy="614.63" r="0.5" fill="#000"/><circle cx="223.23" cy="613.32" r="0.5" fill="#000"/><circle cx="214.23" cy="611.51" r="0.5" fill="#000"/><circle cx="216.53" cy="614.32" r="0.5" fill="#000"/><circle cx="227.06" cy="616.01" r="0.5" fill="#000"/><circle cx="226.08" cy="616.15" r="0.5" fill="#000"/><circle cx="217.73" cy="616.35" r="0.5" fill="#000"/><circle cx="224.17" cy="610.36" r="0.5" fill="#000"/><circle cx="214.06" cy="609.82" r="0.5" fill="#000"/><circle cx="225.44" cy="611.67" r="0.5" fill="#000"/><circle cx="215.49" cy="614.64" r="0.5" fill="#000"/><circle cx="219.10" cy="610.25" r="0.5" fill="#000"/><circle cx="216.26" cy="613.87" r="0.5" fill="#000"/><circle cx="216.39" cy="611.86" r="0.5" fill="#000"/><circle cx="224.76" cy="613.29" r="0.5" fill="#000"/><circle cx="218.76" cy="613.44" r="0.5" fill="#000"/><circle cx="214.16" cy="612.75" r="0.5" fill="#000"/><circle cx="220.28" cy="611.19" r="0.5" fill="#000"/><circle cx="215.47" cy="616.81" r="0.5" fill="#000"/><circle cx="221.66" cy="611.35" r="0.5" fill="#000"/><circle cx="223.13" cy="616.15" r="0.5" fill="#000"/><circle cx="214.12" cy="609.84" r="0.5" fill="#000"/><circle cx="216.06" cy="615.38" r="0.5" fill="#000"/><circle cx="216.27" cy="615.27" r="0.5" fill="#000"/><circle cx="224.24" cy="614.00" r="0.5" fill="#000"/><circle cx="217.20" cy="617.41" r="0.5" fill="#000"/><circle cx="226.09" cy="613.78" r="0.5" fill="#000"/><circle cx="217.24" cy="614.82" r="0.5" fill="#000"/><circle cx="219.88" cy="614.25" r="0.5" fill="#000"/><circle cx="218.75" cy="614.68" r="0.5" fill="#000"/><circle cx="214.71" cy="612.06" r="0.5" fill="#000"/><circle cx="228.71" cy="616.62" r="0.5" fill="#000"/><circle cx="218.52" cy="616.48" r="0.5" fill="#000"/><circle cx="218.58" cy="617.12" r="0.5" fill="#000"/><circle cx="225.26" cy="612.99" r="0.5" fill="#000"/><circle cx="217.69" cy="609.77" r="0.5" fill="#000"/><circle cx="227.33" cy="610.00" r="0.5" fill="#000"/><circle cx="226.42" cy="617.30" r="0.5" fill="#000"/><circle cx="222.58" cy="611.05" r="0.5" fill="#000"/><circle cx="227.16" cy="617.39" r="0.5" fill="#000"/><circle cx="224.64" cy="613.72" r="0.5" fill="#000"/><circle cx="219.62" cy="612.44" r="0.5" fill="#000"/><circle cx="216.97" cy="615.03" r="0.5" fill="#000"/><circle cx="220.47" cy="611.23" r="0.5" fill="#000"/><circle cx="215.41" cy="614.96" r="0.5" fill="#000"/><circle cx="218.36" cy="613.65" r="0.5" fill="#000"/><circle cx="218.81" cy="616.59" r="0.5" fill="#000"/><circle cx="227.66" cy="609.84" r="0.5" fill="#000"/><circle cx="216.89" cy="612.29" r="0.5" fill="#000"/><circle cx="229.00" cy="615.88" r="0.5" fill="#000"/><circle cx="219.02" cy="611.38" r="0.5" fill="#000"/><circle cx="224.19" cy="616.32" r="0.5" fill="#000"/><circle cx="228.16" cy="612.42" r="0.5" fill="#000"/><circle cx="227.39" cy="615.13" r="0.5" fill="#000"/><circle cx="221.26" cy="617.49" r="0.5" fill="#000"/><circle cx="217.41" cy="615.43" r="0.5" fill="#000"/><circle cx="215.10" cy="611.04" r="0.5" fill="#000"/><circle cx="227.83" cy="611.38" r="0.5" fill="#000"/><circle cx="225.49" cy="614.44" r="0.5" fill="#000"/><circle cx="226.75" cy="612.61" r="0.5" fill="#000"/><circle cx="219.04" cy="612.00" r="0.5" fill="#000"/><circle cx="227.16" cy="614.47" r="0.5" fill="#000"/><circle cx="228.50" cy="616.71" r="0.5" fill="#000"/><circle cx="215.88" cy="614.05" r="0.5" fill="#000"/><circle cx="215.41" cy="610.01" r="0.5" fill="#000"/><circle cx="214.93" cy="616.54" r="0.5" fill="#000"/>
<circle cx="232.23" cy="601.56" r="0.5" fill="#000"/><circle cx="216.49" cy="594.22" r="0.5" fill="#000"/><circle cx="230.12" cy="599.76" r="0.5" fill="#000"/><circle cx="227.22" cy="596.12" r="0.5" fill="#000"/><circle cx="226.10" cy="598.66" r="0.5" fill="#000"/><circle cx="225.67" cy="594.85" r="0.5" fill="#000"/><circle cx="223.04" cy="596.85" r="0.5" fill="#000"/><circle cx="228.15" cy="601.96" r="0.5" fill="#000"/><circle cx="232.11" cy="598.13" r="0.5" fill="#000"/><circle cx="223.28" cy="595.78" r="0.5" fill="#000"/><circle cx="216.13" cy="593.73" r="0.5" fill="#000"/><circle cx="223.64" cy="596.21" r="0.5" fill="#000"/><circle cx="222.15" cy="601.08" r="0.5" fill="#000"/><circle cx="224.70" cy="598.26" r="0.5" fill="#000"/><circle cx="219.63" cy="593.70" r="0.5" fill="#000"/><circle cx="221.19" cy="594.66" r="0.5" fill="#000"/><circle cx="224.43" cy="601.99" r="0.5" fill="#000"/><circle cx="227.30" cy="595.05" r="0.5" fill="#000"/><circle cx="231.14" cy="600.27" r="0.5" fill="#000"/><circle cx="228.35" cy="601.21" r="0.5" fill="#000"/><circle cx="228.85" cy="600.21" r="0.5" fill="#000"/><circle cx="221.69" cy="601.84" r="0.5" fill="#000"/><circle cx="232.33" cy="594.87" r="0.5" fill="#000"/><circle cx="228.70" cy="599.58" r="0.5" fill="#000"/><circle cx="223.57" cy="598.01" r="0.5" fill="#000"/><circle cx="224.08" cy="601.36" r="0.5" fill="#000"/><circle cx="224.26" cy="600.57" r="0.5" fill="#000"/><circle cx="221.69" cy="601.00" r="0.5" fill="#000"/><circle cx="231.24" cy="597.42" r="0.5" fill="#000"/><circle cx="225.43" cy="601.32" r="0.5" fill="#000"/><circle cx="228.17" cy="597.64" r="0.5" fill="#000"/><circle cx="219.38" cy="596.26" r="0.5" fill="#000"/><circle cx="227.74" cy="594.91" r="0.5" fill="#000"/><circle cx="231.39" cy="595.78" r="0.5" fill="#000"/><circle cx="231.45" cy="596.13" r="0.5" fill="#000"/><circle cx="232.25" cy="599.50" r="0.5" fill="#000"/><circle cx="224.32" cy="597.90" r="0.5" fill="#000"/><circle cx="226.90" cy="598.50" r="0.5" fill="#000"/><circle cx="220.96" cy="595.27" r="0.5" fill="#000"/><circle cx="224.46" cy="601.44" r="0.5" fill="#000"/><circle cx="226.41" cy="594.14" r="0.5" fill="#000"/><circle cx="229.86" cy="599.67" r="0.5" fill="#000"/><circle cx="231.38" cy="595.13" r="0.5" fill="#000"/><circle cx="228.53" cy="594.00" r="0.5" fill="#000"/><circle cx="226.93" cy="595.82" r="0.5" fill="#000"/>
<circle cx="221.24" cy="598.22" r="0.5" fill="#000"/><circle cx="222.75" cy="598.52" r="0.5" fill="#000"/><circle cx="225.70" cy="595.83" r="0.5" fill="#000"/><circle cx="218.65" cy="599.69" r="0.5" fill="#000"/><circle cx="221.48" cy="596.67" r="0.5" fill="#000"/><circle cx="229.95" cy="597.85" r="0.5" fill="#000"/><circle cx="228.12" cy="597.88" r="0.5" fill="#000"/><circle cx="225.85" cy="596.25" r="0.5" fill="#000"/><circle cx="225.80" cy="599.84" r="0.5" fill="#000"/><circle cx="224.52" cy="599.21" r="0.5" fill="#000"/><circle cx="226.22" cy="595.82" r="0.5" fill="#000"/><circle cx="227.22" cy="598.46" r="0.5" fill="#000"/><circle cx="221.96" cy="595.66" r="0.5" fill="#000"/><circle cx="228.45" cy="597.86" r="0.5" fill="#000"/><circle cx="226.77" cy="599.89" r="0.5" fill="#000"/><circle cx="226.71" cy="600.11" r="0.5" fill="#000"/><circle cx="223.04" cy="599.50" r="0.5" fill="#000"/><circle cx="223.61" cy="600.18" r="0.5" fill="#000"/><circle cx="228.61" cy="595.99" r="0.5" fill="#000"/><circle cx="220.06" cy="596.58" r="0.5" fill="#000"/><circle cx="229.60" cy="597.68" r="0.5" fill="#000"/><circle cx="225.71" cy="597.01" r="0.5" fill="#000"/><circle cx="224.33" cy="597.43" r="0.5" fill="#000"/><circle cx="222.54" cy="598.43" r="0.5" fill="#000"/><circle cx="225.22" cy="600.02" r="0.5" fill="#000"/><circle cx="226.34" cy="600.14" r="0.5" fill="#000"/><circle cx="228.35" cy="600.45" r="0.5" fill="#000"/><circle cx="226.22" cy="596.32" r="0.5" fill="#000"/><circle cx="228.40" cy="600.32" r="0.5" fill="#000"/><circle cx="228.90" cy="598.35" r="0.5" fill="#000"/><circle cx="226.71" cy="596.56" r="0.5" fill="#000"/><circle cx="228.06" cy="598.37" r="0.5" fill="#000"/><circle cx="221.78" cy="595.82" r="0.5" fill="#000"/><circle cx="228.32" cy="600.45" r="0.5" fill="#000"/><circle cx="219.52" cy="599.50" r="0.5" fill="#000"/><circle cx="223.22" cy="596.25" r="0.5" fill="#000"/><circle cx="221.88" cy="599.34" r="0.5" fill="#000"/><circle cx="228.54" cy="595.72" r="0.5" fill="#000"/><circle cx="225.57" cy="595.72" r="0.5" fill="#000"/><circle cx="226.76" cy="597.15" r="0.5" fill="#000"/><circle cx="228.63" cy="600.40" r="0.5" fill="#000"/><circle cx="224.31" cy="600.49" r="0.5" fill="#000"/><circle cx="222.06" cy="595.88" r="0.5" fill="#000"/><circle cx="225.40" cy="595.66" r="0.5" fill="#000"/><circle cx="220.77" cy="597.54" r="0.5" fill="#000"/>
<line x1="225.50" y1="574.70" x2="225.50" y2="626.00" stroke="#8a8a8a" stroke-width="1.3"/>
<line x1="213.40" y1="607.50" x2="263.90" y2="607.50" stroke="#444" stroke-width="0.8"/>
<text x="214.60" y="582.00" font-size="5.2" text-anchor="start" fill="#444">3.55</text>
<text x="259.00" y="582.00" font-size="5.2" text-anchor="end" fill="#444">4.67</text>
<text x="214.60" y="622.50" font-size="5.2" text-anchor="start" fill="#444">83.4</text>
<text x="259.00" y="622.50" font-size="5.2" text-anchor="end" fill="#444">8.36</text>
<text x="212.50" y="581.50" font-size="5.2" text-anchor="end" fill="#444">10<tspan dy="-1.8" font-size="3.4">3</tspan></text>
<text x="212.50" y="593.00" font-size="5.2" text-anchor="end" fill="#444">10<tspan dy="-1.8" font-size="3.4">2</tspan></text>
<text x="212.50" y="604.50" font-size="5.2" text-anchor="end" fill="#444">10<tspan dy="-1.8" font-size="3.4">1</tspan></text>
<text x="212.50" y="616.50" font-size="5.2" text-anchor="end" fill="#444">10<tspan dy="-1.8" font-size="3.4">1</tspan></text>
<text x="212.50" y="622.00" font-size="5.2" text-anchor="end" fill="#444">0</text>
<text x="219.00" y="634.00" font-size="5.2" text-anchor="middle" fill="#444">0</text>
<text x="237.00" y="634.00" font-size="5.2" text-anchor="middle" fill="#444">10<tspan dy="-1.8" font-size="3.4">1</tspan></text>
<text x="249.00" y="634.00" font-size="5.2" text-anchor="middle" fill="#444">10<tspan dy="-1.8" font-size="3.4">2</tspan></text>
<text x="259.60" y="634.00" font-size="5.2" text-anchor="middle" fill="#444">10<tspan dy="-1.8" font-size="3.4">3</tspan></text>
<text x="200.90" y="616.60" font-size="8.4" text-anchor="middle" fill="#222" textLength="12.2" lengthAdjust="spacingAndGlyphs" transform="rotate(-90 200.90 616.60)">GFP</text>
<path d="M197.3 640 V630" fill="none" stroke="#000" stroke-width="1.3"/>
<polygon points="197.3,627 194.8,631.5 199.8,631.5" fill="#000"/>
<path d="M196.7 640 H206" fill="none" stroke="#000" stroke-width="1.3"/>
<polygon points="209.5,640 205,637.5 205,642.5" fill="#000"/>
<text x="212.90" y="643.50" font-size="8.6" text-anchor="start" fill="#231f20" textLength="18.1" lengthAdjust="spacingAndGlyphs">NGFR</text>
<line x1="221.90" y1="650.00" x2="221.90" y2="669.50" stroke="#000" stroke-width="1.3"/>
<polygon points="221.90,674.00 219.30,669.00 221.90,670.20 224.50,669.00" fill="#000"/>
<text x="238.40" y="660.80" font-size="9.6" text-anchor="middle" fill="#231f20" textLength="18.2" lengthAdjust="spacingAndGlyphs">FACS</text>
<text x="238.50" y="669.30" font-size="9.6" text-anchor="middle" fill="#231f20" textLength="13" lengthAdjust="spacingAndGlyphs">sort</text>
<rect x="19.5" y="706.5" width="49.3" height="52.0" fill="#fff" stroke="#b8b8b8" stroke-width="0.7"/>
<path d="M19.5 706.5 V758.5 H68.8" fill="none" stroke="#777" stroke-width="0.7"/>
<rect x="21.50" y="744.80" width="8.50" height="4.00" rx="1.5" fill="#000"/>
<circle cx="25.25" cy="747.16" r="0.5" fill="#000"/><circle cx="30.20" cy="746.59" r="0.5" fill="#000"/><circle cx="25.83" cy="747.32" r="0.5" fill="#000"/><circle cx="22.44" cy="746.87" r="0.5" fill="#000"/><circle cx="27.11" cy="748.56" r="0.5" fill="#000"/><circle cx="21.49" cy="745.62" r="0.5" fill="#000"/><circle cx="21.45" cy="748.66" r="0.5" fill="#000"/><circle cx="27.78" cy="744.05" r="0.5" fill="#000"/><circle cx="30.81" cy="749.59" r="0.5" fill="#000"/><circle cx="27.37" cy="747.49" r="0.5" fill="#000"/><circle cx="22.15" cy="743.89" r="0.5" fill="#000"/><circle cx="26.05" cy="744.16" r="0.5" fill="#000"/><circle cx="22.50" cy="745.25" r="0.5" fill="#000"/><circle cx="20.82" cy="746.58" r="0.5" fill="#000"/><circle cx="25.13" cy="748.85" r="0.5" fill="#000"/><circle cx="25.95" cy="747.64" r="0.5" fill="#000"/><circle cx="25.75" cy="747.77" r="0.5" fill="#000"/><circle cx="25.30" cy="745.47" r="0.5" fill="#000"/><circle cx="30.98" cy="749.77" r="0.5" fill="#000"/><circle cx="29.32" cy="748.05" r="0.5" fill="#000"/><circle cx="23.81" cy="745.18" r="0.5" fill="#000"/><circle cx="23.53" cy="744.22" r="0.5" fill="#000"/><circle cx="28.55" cy="746.20" r="0.5" fill="#000"/><circle cx="29.39" cy="746.12" r="0.5" fill="#000"/><circle cx="30.56" cy="748.88" r="0.5" fill="#000"/><circle cx="20.51" cy="745.06" r="0.5" fill="#000"/><circle cx="30.06" cy="746.62" r="0.5" fill="#000"/><circle cx="30.79" cy="746.18" r="0.5" fill="#000"/><circle cx="21.27" cy="747.58" r="0.5" fill="#000"/><circle cx="28.67" cy="745.42" r="0.5" fill="#000"/><circle cx="21.42" cy="745.80" r="0.5" fill="#000"/><circle cx="30.62" cy="748.35" r="0.5" fill="#000"/><circle cx="21.74" cy="745.28" r="0.5" fill="#000"/><circle cx="21.56" cy="744.16" r="0.5" fill="#000"/><circle cx="28.87" cy="744.87" r="0.5" fill="#000"/><circle cx="26.37" cy="746.48" r="0.5" fill="#000"/><circle cx="22.50" cy="748.19" r="0.5" fill="#000"/><circle cx="21.88" cy="747.66" r="0.5" fill="#000"/><circle cx="21.72" cy="746.32" r="0.5" fill="#000"/><circle cx="22.74" cy="745.42" r="0.5" fill="#000"/><circle cx="30.69" cy="748.62" r="0.5" fill="#000"/><circle cx="23.69" cy="749.11" r="0.5" fill="#000"/><circle cx="22.71" cy="746.17" r="0.5" fill="#000"/><circle cx="29.47" cy="747.65" r="0.5" fill="#000"/><circle cx="21.55" cy="749.74" r="0.5" fill="#000"/><circle cx="22.74" cy="745.35" r="0.5" fill="#000"/><circle cx="28.61" cy="745.77" r="0.5" fill="#000"/><circle cx="23.61" cy="744.24" r="0.5" fill="#000"/><circle cx="21.45" cy="747.30" r="0.5" fill="#000"/><circle cx="23.05" cy="747.41" r="0.5" fill="#000"/><circle cx="24.40" cy="746.52" r="0.5" fill="#000"/><circle cx="30.57" cy="746.70" r="0.5" fill="#000"/><circle cx="26.53" cy="749.00" r="0.5" fill="#000"/><circle cx="22.42" cy="744.72" r="0.5" fill="#000"/><circle cx="30.04" cy="748.71" r="0.5" fill="#000"/><circle cx="23.12" cy="744.94" r="0.5" fill="#000"/><circle cx="28.26" cy="749.44" r="0.5" fill="#000"/><circle cx="22.56" cy="749.50" r="0.5" fill="#000"/><circle cx="29.76" cy="747.42" r="0.5" fill="#000"/><circle cx="24.93" cy="744.42" r="0.5" fill="#000"/><circle cx="20.91" cy="749.58" r="0.5" fill="#000"/><circle cx="23.00" cy="748.03" r="0.5" fill="#000"/><circle cx="23.20" cy="748.74" r="0.5" fill="#000"/><circle cx="26.76" cy="745.56" r="0.5" fill="#000"/><circle cx="22.34" cy="748.12" r="0.5" fill="#000"/><circle cx="21.22" cy="745.17" r="0.5" fill="#000"/><circle cx="26.37" cy="748.91" r="0.5" fill="#000"/><circle cx="26.95" cy="745.48" r="0.5" fill="#000"/><circle cx="30.13" cy="745.02" r="0.5" fill="#000"/><circle cx="20.67" cy="745.42" r="0.5" fill="#000"/>
<line x1="30.50" y1="706.50" x2="30.50" y2="758.50" stroke="#444" stroke-width="0.8"/>
<line x1="19.50" y1="739.20" x2="68.80" y2="739.20" stroke="#444" stroke-width="0.8"/>
<text x="21.00" y="713.50" font-size="5.2" text-anchor="start" fill="#444">0</text>
<text x="66.00" y="713.50" font-size="5.2" text-anchor="end" fill="#444">0</text>
<text x="21.00" y="752.80" font-size="5.2" text-anchor="start" fill="#444">98.2</text>
<text x="64.50" y="752.80" font-size="5.2" text-anchor="end" fill="#444">3.82</text>
<text x="18.30" y="713.50" font-size="5.2" text-anchor="end" fill="#444">10<tspan dy="-1.8" font-size="3.4">3</tspan></text>
<text x="18.30" y="725.00" font-size="5.2" text-anchor="end" fill="#444">10<tspan dy="-1.8" font-size="3.4">2</tspan></text>
<text x="18.30" y="736.50" font-size="5.2" text-anchor="end" fill="#444">10<tspan dy="-1.8" font-size="3.4">1</tspan></text>
<text x="18.30" y="748.00" font-size="5.2" text-anchor="end" fill="#444">10<tspan dy="-1.8" font-size="3.4">1</tspan></text>
<text x="18.30" y="753.00" font-size="5.2" text-anchor="end" fill="#444">0</text>
<text x="23.94" y="765.50" font-size="5.2" text-anchor="middle" fill="#444">0</text>
<text x="42.67" y="765.50" font-size="5.2" text-anchor="middle" fill="#444">10<tspan dy="-1.8" font-size="3.4">1</tspan></text>
<text x="53.52" y="765.50" font-size="5.2" text-anchor="middle" fill="#444">10<tspan dy="-1.8" font-size="3.4">2</tspan></text>
<text x="64.86" y="765.50" font-size="5.2" text-anchor="middle" fill="#444">10<tspan dy="-1.8" font-size="3.4">3</tspan></text>
<text x="44.00" y="692.50" font-size="8.8" text-anchor="middle" fill="#231f20" textLength="19.5" lengthAdjust="spacingAndGlyphs">GFP–</text>
<text x="44.00" y="702.00" font-size="8.8" text-anchor="middle" fill="#231f20" textLength="25" lengthAdjust="spacingAndGlyphs">NGFR–</text>
<rect x="84.5" y="706.5" width="49.099999999999994" height="52.0" fill="#fff" stroke="#b8b8b8" stroke-width="0.7"/>
<path d="M84.5 706.5 V758.5 H133.6" fill="none" stroke="#777" stroke-width="0.7"/>
<circle cx="98.22" cy="744.94" r="0.5" fill="#000"/><circle cx="100.33" cy="741.86" r="0.5" fill="#000"/><circle cx="93.12" cy="743.25" r="0.5" fill="#000"/><circle cx="96.01" cy="745.86" r="0.5" fill="#000"/><circle cx="100.60" cy="744.61" r="0.5" fill="#000"/><circle cx="99.14" cy="744.97" r="0.5" fill="#000"/><circle cx="94.60" cy="743.64" r="0.5" fill="#000"/><circle cx="94.78" cy="746.44" r="0.5" fill="#000"/><circle cx="93.65" cy="745.91" r="0.5" fill="#000"/><circle cx="93.82" cy="745.12" r="0.5" fill="#000"/><circle cx="96.71" cy="743.43" r="0.5" fill="#000"/><circle cx="102.27" cy="741.11" r="0.5" fill="#000"/><circle cx="93.67" cy="746.49" r="0.5" fill="#000"/><circle cx="98.60" cy="741.55" r="0.5" fill="#000"/><circle cx="103.86" cy="746.68" r="0.5" fill="#000"/><circle cx="94.24" cy="743.54" r="0.5" fill="#000"/><circle cx="94.49" cy="742.88" r="0.5" fill="#000"/><circle cx="99.84" cy="741.98" r="0.5" fill="#000"/><circle cx="100.67" cy="741.31" r="0.5" fill="#000"/><circle cx="94.88" cy="745.89" r="0.5" fill="#000"/><circle cx="97.41" cy="743.51" r="0.5" fill="#000"/><circle cx="99.56" cy="743.86" r="0.5" fill="#000"/><circle cx="97.23" cy="741.18" r="0.5" fill="#000"/><circle cx="100.99" cy="746.80" r="0.5" fill="#000"/><circle cx="103.74" cy="744.98" r="0.5" fill="#000"/>
<line x1="96.30" y1="706.50" x2="96.30" y2="758.50" stroke="#444" stroke-width="0.8"/>
<line x1="84.50" y1="739.20" x2="133.60" y2="739.20" stroke="#444" stroke-width="0.8"/>
<text x="86.00" y="713.50" font-size="5.2" text-anchor="start" fill="#444">0</text>
<text x="131.50" y="713.50" font-size="5.2" text-anchor="end" fill="#444">0</text>
<text x="86.00" y="753.50" font-size="5.2" text-anchor="start" fill="#444">13.5</text>
<text x="129.00" y="753.50" font-size="5.2" text-anchor="end" fill="#444">86.5</text>
<text x="83.30" y="713.50" font-size="5.2" text-anchor="end" fill="#444">10<tspan dy="-1.8" font-size="3.4">3</tspan></text>
<text x="83.30" y="725.00" font-size="5.2" text-anchor="end" fill="#444">10<tspan dy="-1.8" font-size="3.4">2</tspan></text>
<text x="83.30" y="736.50" font-size="5.2" text-anchor="end" fill="#444">10<tspan dy="-1.8" font-size="3.4">1</tspan></text>
<text x="83.30" y="748.00" font-size="5.2" text-anchor="end" fill="#444">10<tspan dy="-1.8" font-size="3.4">1</tspan></text>
<text x="83.30" y="753.00" font-size="5.2" text-anchor="end" fill="#444">0</text>
<text x="88.92" y="765.50" font-size="5.2" text-anchor="middle" fill="#444">0</text>
<text x="107.58" y="765.50" font-size="5.2" text-anchor="middle" fill="#444">10<tspan dy="-1.8" font-size="3.4">1</tspan></text>
<text x="118.38" y="765.50" font-size="5.2" text-anchor="middle" fill="#444">10<tspan dy="-1.8" font-size="3.4">2</tspan></text>
<text x="129.67" y="765.50" font-size="5.2" text-anchor="middle" fill="#444">10<tspan dy="-1.8" font-size="3.4">3</tspan></text>
<text x="109.30" y="692.50" font-size="8.8" text-anchor="middle" fill="#231f20" textLength="19.5" lengthAdjust="spacingAndGlyphs">GFP–</text>
<text x="109.30" y="702.00" font-size="8.8" text-anchor="middle" fill="#231f20" textLength="25" lengthAdjust="spacingAndGlyphs">NGFR+</text>
<rect x="151" y="706.5" width="49.5" height="52.0" fill="#fff" stroke="#b8b8b8" stroke-width="0.7"/>
<path d="M151 706.5 V758.5 H200.5" fill="none" stroke="#777" stroke-width="0.7"/>
<circle cx="162.35" cy="731.29" r="0.5" fill="#000"/><circle cx="167.02" cy="732.70" r="0.5" fill="#000"/><circle cx="161.54" cy="727.38" r="0.5" fill="#000"/><circle cx="161.12" cy="727.34" r="0.5" fill="#000"/><circle cx="167.57" cy="726.52" r="0.5" fill="#000"/><circle cx="165.34" cy="727.24" r="0.5" fill="#000"/><circle cx="162.74" cy="729.11" r="0.5" fill="#000"/><circle cx="168.71" cy="730.63" r="0.5" fill="#000"/><circle cx="159.66" cy="727.77" r="0.5" fill="#000"/><circle cx="161.11" cy="732.89" r="0.5" fill="#000"/><circle cx="168.41" cy="732.33" r="0.5" fill="#000"/><circle cx="168.59" cy="731.80" r="0.5" fill="#000"/><circle cx="169.94" cy="732.23" r="0.5" fill="#000"/><circle cx="162.32" cy="732.71" r="0.5" fill="#000"/><circle cx="164.85" cy="731.89" r="0.5" fill="#000"/><circle cx="165.71" cy="729.09" r="0.5" fill="#000"/><circle cx="163.51" cy="729.10" r="0.5" fill="#000"/><circle cx="162.95" cy="726.41" r="0.5" fill="#000"/><circle cx="168.52" cy="732.27" r="0.5" fill="#000"/><circle cx="170.34" cy="731.34" r="0.5" fill="#000"/><circle cx="165.60" cy="731.84" r="0.5" fill="#000"/><circle cx="160.98" cy="731.22" r="0.5" fill="#000"/>
<circle cx="167.77" cy="727.06" r="0.5" fill="#000"/><circle cx="166.28" cy="727.87" r="0.5" fill="#000"/><circle cx="167.91" cy="727.09" r="0.5" fill="#000"/><circle cx="167.22" cy="730.75" r="0.5" fill="#000"/><circle cx="167.07" cy="732.50" r="0.5" fill="#000"/><circle cx="163.06" cy="728.86" r="0.5" fill="#000"/><circle cx="166.10" cy="728.54" r="0.5" fill="#000"/><circle cx="163.21" cy="728.26" r="0.5" fill="#000"/><circle cx="167.08" cy="731.81" r="0.5" fill="#000"/><circle cx="166.68" cy="728.23" r="0.5" fill="#000"/><circle cx="167.51" cy="729.81" r="0.5" fill="#000"/><circle cx="163.00" cy="729.51" r="0.5" fill="#000"/><circle cx="164.23" cy="727.43" r="0.5" fill="#000"/><circle cx="165.17" cy="728.98" r="0.5" fill="#000"/><circle cx="165.20" cy="732.12" r="0.5" fill="#000"/><circle cx="165.70" cy="729.23" r="0.5" fill="#000"/><circle cx="167.11" cy="732.47" r="0.5" fill="#000"/><circle cx="164.69" cy="732.20" r="0.5" fill="#000"/><circle cx="161.62" cy="727.77" r="0.5" fill="#000"/><circle cx="162.62" cy="732.16" r="0.5" fill="#000"/><circle cx="165.99" cy="730.95" r="0.5" fill="#000"/><circle cx="163.36" cy="729.72" r="0.5" fill="#000"/>
<line x1="162.00" y1="706.50" x2="162.00" y2="758.50" stroke="#444" stroke-width="0.8"/>
<line x1="151.00" y1="739.20" x2="200.50" y2="739.20" stroke="#444" stroke-width="0.8"/>
<text x="151.80" y="713.50" font-size="5.2" text-anchor="start" fill="#444">8.00</text>
<text x="194.50" y="713.50" font-size="5.2" text-anchor="end" fill="#444">92.0</text>
<text x="153.00" y="753.50" font-size="5.2" text-anchor="start" fill="#444">0</text>
<text x="198.00" y="753.50" font-size="5.2" text-anchor="end" fill="#444">0</text>
<text x="149.80" y="713.50" font-size="5.2" text-anchor="end" fill="#444">10<tspan dy="-1.8" font-size="3.4">3</tspan></text>
<text x="149.80" y="725.00" font-size="5.2" text-anchor="end" fill="#444">10<tspan dy="-1.8" font-size="3.4">2</tspan></text>
<text x="149.80" y="736.50" font-size="5.2" text-anchor="end" fill="#444">10<tspan dy="-1.8" font-size="3.4">1</tspan></text>
<text x="149.80" y="748.00" font-size="5.2" text-anchor="end" fill="#444">10<tspan dy="-1.8" font-size="3.4">1</tspan></text>
<text x="149.80" y="753.00" font-size="5.2" text-anchor="end" fill="#444">0</text>
<text x="155.46" y="765.50" font-size="5.2" text-anchor="middle" fill="#444">0</text>
<text x="174.26" y="765.50" font-size="5.2" text-anchor="middle" fill="#444">10<tspan dy="-1.8" font-size="3.4">1</tspan></text>
<text x="185.16" y="765.50" font-size="5.2" text-anchor="middle" fill="#444">10<tspan dy="-1.8" font-size="3.4">2</tspan></text>
<text x="196.54" y="765.50" font-size="5.2" text-anchor="middle" fill="#444">10<tspan dy="-1.8" font-size="3.4">3</tspan></text>
<text x="174.70" y="692.50" font-size="8.8" text-anchor="middle" fill="#231f20" textLength="19.5" lengthAdjust="spacingAndGlyphs">GFP+</text>
<text x="174.70" y="702.00" font-size="8.8" text-anchor="middle" fill="#231f20" textLength="25" lengthAdjust="spacingAndGlyphs">NGFR+</text>
<rect x="216.4" y="706.5" width="48.99999999999997" height="52.0" fill="#fff" stroke="#b8b8b8" stroke-width="0.7"/>
<path d="M216.4 706.5 V758.5 H265.4" fill="none" stroke="#777" stroke-width="0.7"/>
<circle cx="219.85" cy="730.25" r="0.5" fill="#000"/><circle cx="224.22" cy="731.89" r="0.5" fill="#000"/><circle cx="221.17" cy="727.16" r="0.5" fill="#000"/><circle cx="224.87" cy="729.94" r="0.5" fill="#000"/><circle cx="221.42" cy="730.12" r="0.5" fill="#000"/><circle cx="222.17" cy="730.76" r="0.5" fill="#000"/><circle cx="219.95" cy="726.94" r="0.5" fill="#000"/><circle cx="226.21" cy="727.87" r="0.5" fill="#000"/><circle cx="221.08" cy="730.95" r="0.5" fill="#000"/><circle cx="224.05" cy="726.43" r="0.5" fill="#000"/><circle cx="223.41" cy="729.98" r="0.5" fill="#000"/><circle cx="220.32" cy="729.90" r="0.5" fill="#000"/><circle cx="219.98" cy="727.73" r="0.5" fill="#000"/><circle cx="219.67" cy="726.81" r="0.5" fill="#000"/><circle cx="226.82" cy="728.19" r="0.5" fill="#000"/><circle cx="226.92" cy="728.43" r="0.5" fill="#000"/><circle cx="223.86" cy="731.42" r="0.5" fill="#000"/><circle cx="224.50" cy="726.17" r="0.5" fill="#000"/><circle cx="223.71" cy="729.77" r="0.5" fill="#000"/><circle cx="220.45" cy="726.05" r="0.5" fill="#000"/><circle cx="226.00" cy="728.95" r="0.5" fill="#000"/><circle cx="220.55" cy="728.52" r="0.5" fill="#000"/><circle cx="220.75" cy="730.91" r="0.5" fill="#000"/><circle cx="223.00" cy="726.11" r="0.5" fill="#000"/><circle cx="225.55" cy="726.02" r="0.5" fill="#000"/><circle cx="221.25" cy="725.59" r="0.5" fill="#000"/><circle cx="224.92" cy="726.19" r="0.5" fill="#000"/><circle cx="223.21" cy="726.04" r="0.5" fill="#000"/><circle cx="222.84" cy="730.13" r="0.5" fill="#000"/><circle cx="223.28" cy="728.54" r="0.5" fill="#000"/><circle cx="222.88" cy="728.42" r="0.5" fill="#000"/><circle cx="223.76" cy="726.05" r="0.5" fill="#000"/><circle cx="222.80" cy="727.03" r="0.5" fill="#000"/><circle cx="225.92" cy="731.88" r="0.5" fill="#000"/><circle cx="219.53" cy="726.39" r="0.5" fill="#000"/><circle cx="224.63" cy="729.34" r="0.5" fill="#000"/><circle cx="219.15" cy="730.26" r="0.5" fill="#000"/><circle cx="226.55" cy="728.32" r="0.5" fill="#000"/><circle cx="221.78" cy="729.33" r="0.5" fill="#000"/><circle cx="226.51" cy="727.22" r="0.5" fill="#000"/><circle cx="221.42" cy="726.70" r="0.5" fill="#000"/><circle cx="224.03" cy="728.64" r="0.5" fill="#000"/><circle cx="221.05" cy="728.08" r="0.5" fill="#000"/><circle cx="219.28" cy="727.56" r="0.5" fill="#000"/><circle cx="226.86" cy="729.44" r="0.5" fill="#000"/><circle cx="221.26" cy="731.86" r="0.5" fill="#000"/><circle cx="221.87" cy="727.14" r="0.5" fill="#000"/><circle cx="219.28" cy="726.41" r="0.5" fill="#000"/><circle cx="220.59" cy="726.99" r="0.5" fill="#000"/><circle cx="225.98" cy="727.23" r="0.5" fill="#000"/><circle cx="220.99" cy="729.57" r="0.5" fill="#000"/><circle cx="226.34" cy="727.41" r="0.5" fill="#000"/><circle cx="225.09" cy="727.94" r="0.5" fill="#000"/><circle cx="223.49" cy="729.51" r="0.5" fill="#000"/><circle cx="226.54" cy="730.63" r="0.5" fill="#000"/>
<line x1="227.30" y1="706.50" x2="227.30" y2="758.50" stroke="#444" stroke-width="0.8"/>
<line x1="216.40" y1="739.20" x2="265.40" y2="739.20" stroke="#444" stroke-width="0.8"/>
<text x="217.00" y="713.50" font-size="5.2" text-anchor="start" fill="#444">97.3</text>
<text x="261.00" y="713.50" font-size="5.2" text-anchor="end" fill="#444">2.70</text>
<text x="218.00" y="753.50" font-size="5.2" text-anchor="start" fill="#444">0</text>
<text x="263.00" y="753.50" font-size="5.2" text-anchor="end" fill="#444">0</text>
<text x="215.20" y="713.50" font-size="5.2" text-anchor="end" fill="#444">10<tspan dy="-1.8" font-size="3.4">3</tspan></text>
<text x="215.20" y="725.00" font-size="5.2" text-anchor="end" fill="#444">10<tspan dy="-1.8" font-size="3.4">2</tspan></text>
<text x="215.20" y="736.50" font-size="5.2" text-anchor="end" fill="#444">10<tspan dy="-1.8" font-size="3.4">1</tspan></text>
<text x="215.20" y="748.00" font-size="5.2" text-anchor="end" fill="#444">10<tspan dy="-1.8" font-size="3.4">1</tspan></text>
<text x="215.20" y="753.00" font-size="5.2" text-anchor="end" fill="#444">0</text>
<text x="220.81" y="765.50" font-size="5.2" text-anchor="middle" fill="#444">0</text>
<text x="239.43" y="765.50" font-size="5.2" text-anchor="middle" fill="#444">10<tspan dy="-1.8" font-size="3.4">1</tspan></text>
<text x="250.21" y="765.50" font-size="5.2" text-anchor="middle" fill="#444">10<tspan dy="-1.8" font-size="3.4">2</tspan></text>
<text x="261.48" y="765.50" font-size="5.2" text-anchor="middle" fill="#444">10<tspan dy="-1.8" font-size="3.4">3</tspan></text>
<text x="240.40" y="692.50" font-size="8.8" text-anchor="middle" fill="#231f20" textLength="19.5" lengthAdjust="spacingAndGlyphs">GFP+</text>
<text x="240.40" y="702.00" font-size="8.8" text-anchor="middle" fill="#231f20" textLength="25" lengthAdjust="spacingAndGlyphs">NGFR–</text>
<text x="9.00" y="749.00" font-size="7" text-anchor="middle" fill="#222" textLength="12" lengthAdjust="spacingAndGlyphs" transform="rotate(-90 9.00 749.00)">GFR</text>
<path d="M5.5 772.5 V764" fill="none" stroke="#000" stroke-width="1.3"/>
<polygon points="5.5,760.5 3,765 8,765" fill="#000"/>
<path d="M4.9 772.5 H13" fill="none" stroke="#000" stroke-width="1.3"/>
<polygon points="16.5,772.5 12,770 12,775" fill="#000"/>
<text x="21.00" y="776.30" font-size="8.6" text-anchor="start" fill="#231f20" textLength="19" lengthAdjust="spacingAndGlyphs">NGFR</text>
<text x="285.80" y="549.30" font-size="12.3" text-anchor="start" fill="#000" font-weight="bold">F</text>
<path d="M319.25 575.03 L424.79 575.03" fill="none" stroke="#2B5C8F" stroke-width="1.2"/>
<circle cx="424.79" cy="575.03" r="1.3" fill="#2B5C8F"/>
<path d="M319.25 577.03 L377.77 577.03 L377.77 594.06 L424.79 594.06" fill="none" stroke="#3DAA48" stroke-width="1.0"/>
<circle cx="377.77" cy="594.06" r="1.3" fill="#3DAA48"/>
<circle cx="424.79" cy="594.06" r="1.3" fill="#3DAA48"/>
<path d="M319.25 578.37 L424.79 578.37" fill="none" stroke="#6A4A8E" stroke-width="1.1"/>
<circle cx="424.79" cy="578.37" r="1.3" fill="#6A4A8E"/>
<path d="M319.25 578.83 L424.79 578.83" fill="none" stroke="#4B2170" stroke-width="1.1"/>
<circle cx="424.79" cy="578.83" r="1.3" fill="#4B2170"/>
<path d="M319.25 581.17 L361.05 581.17 L361.05 630.80 L362.41 630.80 L362.41 645.50" fill="none" stroke="#C8102E" stroke-width="1.1"/>
<circle cx="361.05" cy="630.80" r="1.3" fill="#C8102E"/>
<path d="M319.25 581.17 L366.80 581.17 L366.80 596.74 L367.84 596.74 L367.84 614.10 L424.79 614.10" fill="none" stroke="#D8405A" stroke-width="1.0"/>
<circle cx="366.80" cy="596.74" r="1.3" fill="#D8405A"/>
<circle cx="367.84" cy="614.10" r="1.3" fill="#D8405A"/>
<circle cx="424.79" cy="614.10" r="1.3" fill="#D8405A"/>
<line x1="319.25" y1="572.50" x2="319.25" y2="646.50" stroke="#231f20" stroke-width="1.5"/>
<line x1="318.55" y1="645.50" x2="435.00" y2="645.50" stroke="#231f20" stroke-width="1.5"/>
<line x1="315.75" y1="645.50" x2="319.25" y2="645.50" stroke="#231f20" stroke-width="1.1"/>
<text x="312.05" y="648.10" font-size="7.4" text-anchor="end" fill="#231f20">0</text>
<line x1="315.75" y1="628.80" x2="319.25" y2="628.80" stroke="#231f20" stroke-width="1.1"/>
<line x1="315.75" y1="612.10" x2="319.25" y2="612.10" stroke="#231f20" stroke-width="1.1"/>
<text x="312.05" y="614.70" font-size="7.4" text-anchor="end" fill="#231f20">50</text>
<line x1="315.75" y1="595.40" x2="319.25" y2="595.40" stroke="#231f20" stroke-width="1.1"/>
<line x1="315.75" y1="578.70" x2="319.25" y2="578.70" stroke="#231f20" stroke-width="1.1"/>
<text x="312.05" y="581.30" font-size="7.4" text-anchor="end" fill="#231f20">100</text>
<line x1="319.25" y1="645.50" x2="319.25" y2="649.00" stroke="#231f20" stroke-width="1.1"/>
<text x="319.25" y="659.50" font-size="7.9" text-anchor="middle" fill="#231f20">0</text>
<line x1="340.15" y1="645.50" x2="340.15" y2="649.00" stroke="#231f20" stroke-width="1.1"/>
<text x="340.15" y="659.50" font-size="7.9" text-anchor="middle" fill="#231f20">20</text>
<line x1="361.05" y1="645.50" x2="361.05" y2="649.00" stroke="#231f20" stroke-width="1.1"/>
<text x="361.05" y="659.50" font-size="7.9" text-anchor="middle" fill="#231f20">40</text>
<line x1="381.95" y1="645.50" x2="381.95" y2="649.00" stroke="#231f20" stroke-width="1.1"/>
<text x="381.95" y="659.50" font-size="7.9" text-anchor="middle" fill="#231f20">60</text>
<line x1="402.85" y1="645.50" x2="402.85" y2="649.00" stroke="#231f20" stroke-width="1.1"/>
<text x="402.85" y="659.50" font-size="7.9" text-anchor="middle" fill="#231f20">80</text>
<line x1="423.75" y1="645.50" x2="423.75" y2="649.00" stroke="#231f20" stroke-width="1.1"/>
<text x="423.75" y="659.50" font-size="7.9" text-anchor="middle" fill="#231f20">100</text>
<text x="336.20" y="567.00" font-size="8" text-anchor="start" fill="#231f20" textLength="81.4" lengthAdjust="spacingAndGlyphs">M71-10; 7TGC_3DNm8</text>
<text x="377.10" y="673.00" font-size="10.2" text-anchor="middle" fill="#231f20" textLength="73.3" lengthAdjust="spacingAndGlyphs">Days post-transplant</text>
<text x="293.30" y="609.00" font-size="10.6" text-anchor="middle" fill="#231f20" textLength="42.5" lengthAdjust="spacingAndGlyphs" transform="rotate(-90 293.30 609.00)">Survival (%)</text>
<line x1="440.80" y1="569.20" x2="449.00" y2="569.20" stroke="#C8102E" stroke-width="1.0"/>
<circle cx="445" cy="569.20" r="1.2" fill="#C8102E"/>
<text x="453.00" y="571.60" font-size="6.5" text-anchor="start" fill="#333" textLength="58.4" lengthAdjust="spacingAndGlyphs">GFP + NGFR + (10¹)</text>
<line x1="440.80" y1="581.13" x2="449.00" y2="581.13" stroke="#D8405A" stroke-width="1.0"/>
<circle cx="445" cy="581.13" r="1.2" fill="#D8405A"/>
<text x="453.00" y="583.53" font-size="6.5" text-anchor="start" fill="#333" textLength="58.4" lengthAdjust="spacingAndGlyphs">GFP + NGFR + (10²)</text>
<line x1="440.80" y1="593.06" x2="449.00" y2="593.06" stroke="#3DAA48" stroke-width="1.0"/>
<circle cx="445" cy="593.06" r="1.2" fill="#3DAA48"/>
<text x="453.00" y="595.46" font-size="6.5" text-anchor="start" fill="#333" textLength="58.4" lengthAdjust="spacingAndGlyphs">GFP + NGFR – (10¹)</text>
<line x1="440.80" y1="604.99" x2="449.00" y2="604.99" stroke="#7BC86C" stroke-width="1.0"/>
<circle cx="445" cy="604.99" r="1.2" fill="#7BC86C"/>
<text x="453.00" y="607.39" font-size="6.5" text-anchor="start" fill="#333" textLength="58.4" lengthAdjust="spacingAndGlyphs">GFP + NGFR – (10²)</text>
<line x1="440.80" y1="616.92" x2="449.00" y2="616.92" stroke="#2B5C8F" stroke-width="1.0"/>
<circle cx="445" cy="616.92" r="1.2" fill="#2B5C8F"/>
<text x="453.00" y="619.32" font-size="6.5" text-anchor="start" fill="#333" textLength="58.4" lengthAdjust="spacingAndGlyphs">GFP – NGFR + (10¹)</text>
<line x1="440.80" y1="628.85" x2="449.00" y2="628.85" stroke="#4B2170" stroke-width="1.0"/>
<circle cx="445" cy="628.85" r="1.2" fill="#4B2170"/>
<text x="453.00" y="631.25" font-size="6.5" text-anchor="start" fill="#333" textLength="58.4" lengthAdjust="spacingAndGlyphs">GFP – NGFR – (10¹)</text>
<line x1="440.80" y1="640.78" x2="449.00" y2="640.78" stroke="#6A4A8E" stroke-width="1.0"/>
<circle cx="445" cy="640.78" r="1.2" fill="#6A4A8E"/>
<text x="453.00" y="643.18" font-size="6.5" text-anchor="start" fill="#333" textLength="58.4" lengthAdjust="spacingAndGlyphs">GFP – NGFR – (10²)</text>
<text x="460.80" y="655.50" font-size="6.5" text-anchor="start" fill="#333" textLength="34.2" lengthAdjust="spacingAndGlyphs">(n = 4 each)</text>
<path d="M319.25 709.24 L425.84 709.24" fill="none" stroke="#a4c6bf" stroke-width="3.6"/>
<path d="M319.25 707.11 L425.84 707.11" fill="none" stroke="#2a6478" stroke-width="1.2"/>
<circle cx="425.84" cy="707.11" r="1.3" fill="#2a6478"/>
<path d="M319.25 711.38 L425.84 711.38" fill="none" stroke="#4f6470" stroke-width="1.0"/>
<circle cx="425.84" cy="711.38" r="1.3" fill="#4f6470"/>
<path d="M319.25 714.12 L359.48 714.12 L359.48 764.55 L425.84 764.55" fill="none" stroke="#cf2a4a" stroke-width="1.0"/>
<circle cx="359.48" cy="764.55" r="1.3" fill="#cf2a4a"/>
<circle cx="425.84" cy="764.55" r="1.3" fill="#cf2a4a"/>
<line x1="319.25" y1="705.50" x2="319.25" y2="780.25" stroke="#231f20" stroke-width="1.5"/>
<line x1="318.55" y1="779.25" x2="435.00" y2="779.25" stroke="#231f20" stroke-width="1.5"/>
<line x1="315.75" y1="779.25" x2="319.25" y2="779.25" stroke="#231f20" stroke-width="1.1"/>
<text x="312.05" y="781.85" font-size="7.4" text-anchor="end" fill="#231f20">0</text>
<line x1="315.75" y1="762.55" x2="319.25" y2="762.55" stroke="#231f20" stroke-width="1.1"/>
<line x1="315.75" y1="745.85" x2="319.25" y2="745.85" stroke="#231f20" stroke-width="1.1"/>
<text x="312.05" y="748.45" font-size="7.4" text-anchor="end" fill="#231f20">50</text>
<line x1="315.75" y1="729.15" x2="319.25" y2="729.15" stroke="#231f20" stroke-width="1.1"/>
<line x1="315.75" y1="712.45" x2="319.25" y2="712.45" stroke="#231f20" stroke-width="1.1"/>
<text x="312.05" y="715.05" font-size="7.4" text-anchor="end" fill="#231f20">100</text>
<line x1="319.25" y1="779.25" x2="319.25" y2="782.75" stroke="#231f20" stroke-width="1.1"/>
<text x="319.25" y="793.00" font-size="7.9" text-anchor="middle" fill="#231f20">0</text>
<line x1="340.15" y1="779.25" x2="340.15" y2="782.75" stroke="#231f20" stroke-width="1.1"/>
<text x="340.15" y="793.00" font-size="7.9" text-anchor="middle" fill="#231f20">20</text>
<line x1="361.05" y1="779.25" x2="361.05" y2="782.75" stroke="#231f20" stroke-width="1.1"/>
<text x="361.05" y="793.00" font-size="7.9" text-anchor="middle" fill="#231f20">40</text>
<line x1="381.95" y1="779.25" x2="381.95" y2="782.75" stroke="#231f20" stroke-width="1.1"/>
<text x="381.95" y="793.00" font-size="7.9" text-anchor="middle" fill="#231f20">60</text>
<line x1="402.85" y1="779.25" x2="402.85" y2="782.75" stroke="#231f20" stroke-width="1.1"/>
<text x="402.85" y="793.00" font-size="7.9" text-anchor="middle" fill="#231f20">80</text>
<line x1="423.75" y1="779.25" x2="423.75" y2="782.75" stroke="#231f20" stroke-width="1.1"/>
<text x="423.75" y="793.00" font-size="7.9" text-anchor="middle" fill="#231f20">100</text>
<text x="335.00" y="701.00" font-size="8" text-anchor="start" fill="#231f20" textLength="85" lengthAdjust="spacingAndGlyphs">H3255-1; 7TGC_3DNm8</text>
<text x="377.10" y="807.00" font-size="10.2" text-anchor="middle" fill="#231f20" textLength="73.3" lengthAdjust="spacingAndGlyphs">Days post-transplant</text>
<text x="293.30" y="742.75" font-size="10.6" text-anchor="middle" fill="#231f20" textLength="42.5" lengthAdjust="spacingAndGlyphs" transform="rotate(-90 293.30 742.75)">Survival (%)</text>
<line x1="440.80" y1="720.20" x2="449.00" y2="720.20" stroke="#C8102E" stroke-width="1.0"/>
<circle cx="445" cy="720.20" r="1.2" fill="#C8102E"/>
<text x="453.00" y="722.60" font-size="6.5" text-anchor="start" fill="#333" textLength="64.7" lengthAdjust="spacingAndGlyphs">GFP + NGFR + (5*10³)</text>
<line x1="440.80" y1="730.33" x2="449.00" y2="730.33" stroke="#3DAA48" stroke-width="1.0"/>
<circle cx="445" cy="730.33" r="1.2" fill="#3DAA48"/>
<text x="453.00" y="732.73" font-size="6.5" text-anchor="start" fill="#333" textLength="64.7" lengthAdjust="spacingAndGlyphs">GFP + NGFR – (5*10³)</text>
<line x1="440.80" y1="740.46" x2="449.00" y2="740.46" stroke="#2B5C8F" stroke-width="1.0"/>
<circle cx="445" cy="740.46" r="1.2" fill="#2B5C8F"/>
<text x="453.00" y="742.86" font-size="6.5" text-anchor="start" fill="#333" textLength="64.7" lengthAdjust="spacingAndGlyphs">GFP – NGFR + (5*10³)</text>
<line x1="440.80" y1="750.59" x2="449.00" y2="750.59" stroke="#4B2170" stroke-width="1.0"/>
<circle cx="445" cy="750.59" r="1.2" fill="#4B2170"/>
<text x="453.00" y="752.99" font-size="6.5" text-anchor="start" fill="#333" textLength="64.7" lengthAdjust="spacingAndGlyphs">GFP – NGFR – (5*10³)</text>
<text x="460.80" y="763.50" font-size="6.5" text-anchor="start" fill="#333" textLength="34.2" lengthAdjust="spacingAndGlyphs">(n = 4 each)</text>
</svg>
</body></html>
